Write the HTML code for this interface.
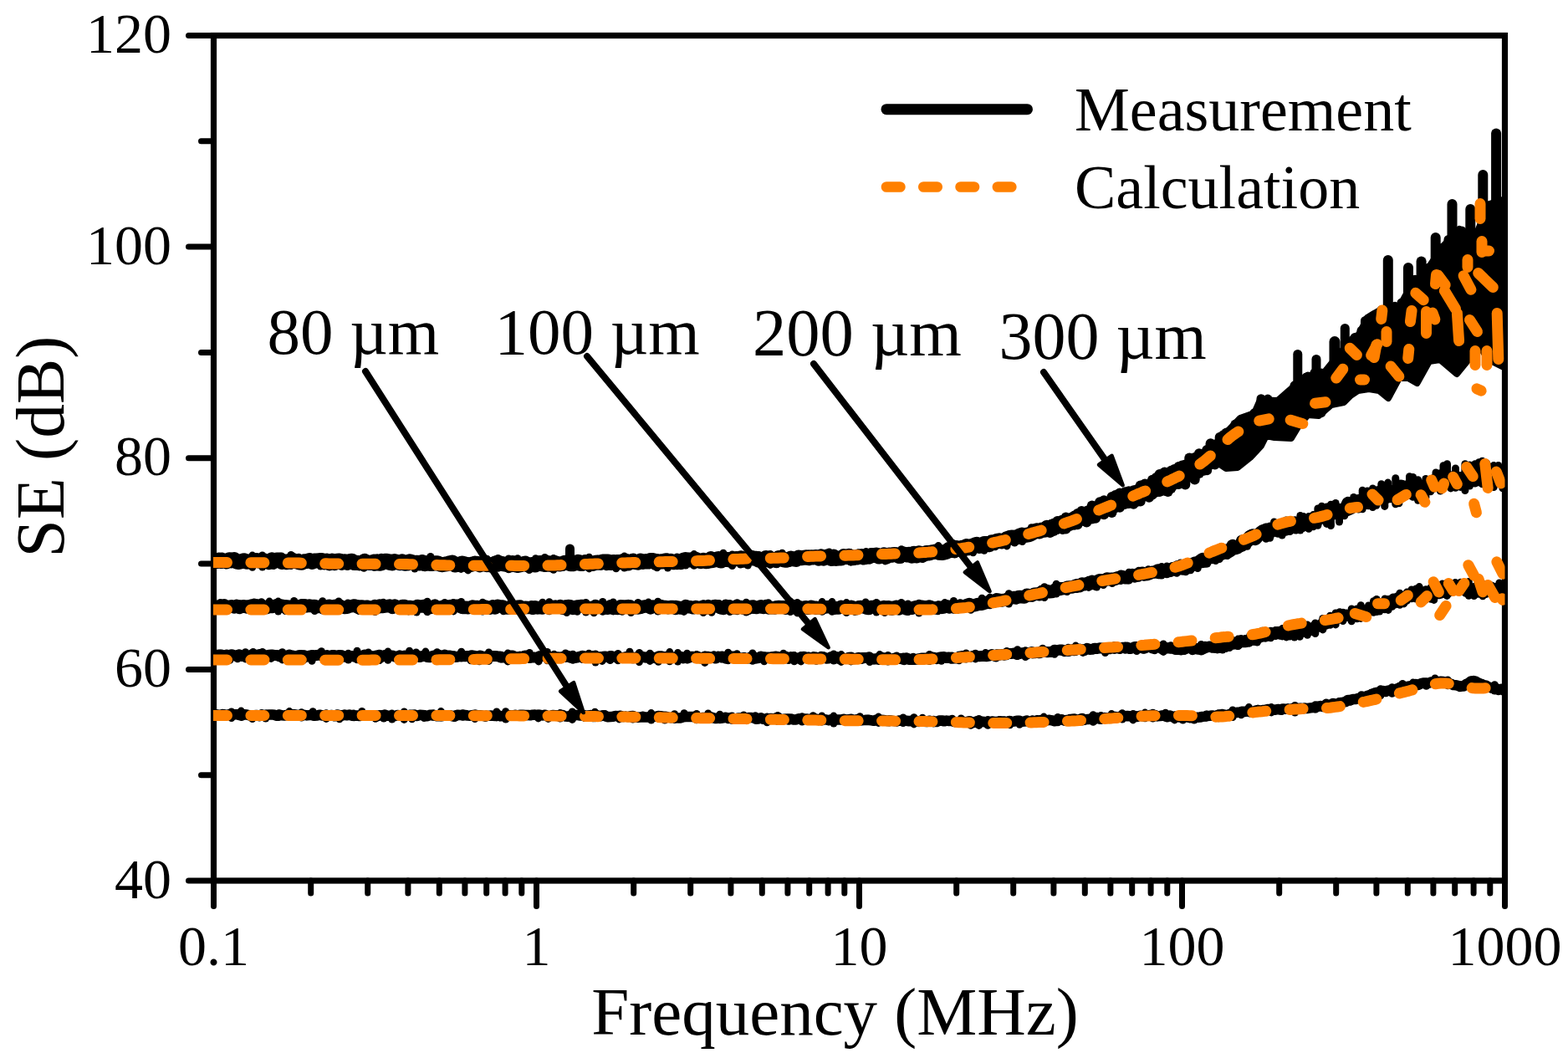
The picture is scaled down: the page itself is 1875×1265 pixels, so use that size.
<!DOCTYPE html><html><head><meta charset="utf-8"><style>html,body{margin:0;padding:0;background:#fff}svg{display:block}</style></head><body><svg width="1875" height="1265" viewBox="0 0 1875 1265">
<defs><clipPath id="pa"><rect x="255" y="20" width="1544.5" height="1033"/></clipPath></defs>
<rect width="1875" height="1265" fill="#fff"/>
<g stroke="#000" stroke-width="7" fill="none">
<rect x="255.5" y="42.5" width="1544.0" height="1010.5" stroke-width="7.2"/>
<line x1="255.5" y1="1053.0" x2="225.5" y2="1053.0" stroke-linecap="round"/>
<line x1="255.5" y1="926.7" x2="240.5" y2="926.7" stroke-linecap="round"/>
<line x1="255.5" y1="800.4" x2="225.5" y2="800.4" stroke-linecap="round"/>
<line x1="255.5" y1="674.1" x2="240.5" y2="674.1" stroke-linecap="round"/>
<line x1="255.5" y1="547.8" x2="225.5" y2="547.8" stroke-linecap="round"/>
<line x1="255.5" y1="421.4" x2="240.5" y2="421.4" stroke-linecap="round"/>
<line x1="255.5" y1="295.1" x2="225.5" y2="295.1" stroke-linecap="round"/>
<line x1="255.5" y1="168.8" x2="240.5" y2="168.8" stroke-linecap="round"/>
<line x1="255.5" y1="42.5" x2="225.5" y2="42.5" stroke-linecap="round"/>
<line x1="255.5" y1="1053.0" x2="255.5" y2="1083.5" stroke-linecap="round"/>
<line x1="371.7" y1="1053.0" x2="371.7" y2="1068" stroke-linecap="round"/>
<line x1="439.7" y1="1053.0" x2="439.7" y2="1068" stroke-linecap="round"/>
<line x1="487.9" y1="1053.0" x2="487.9" y2="1068" stroke-linecap="round"/>
<line x1="525.3" y1="1053.0" x2="525.3" y2="1068" stroke-linecap="round"/>
<line x1="555.9" y1="1053.0" x2="555.9" y2="1068" stroke-linecap="round"/>
<line x1="581.7" y1="1053.0" x2="581.7" y2="1068" stroke-linecap="round"/>
<line x1="604.1" y1="1053.0" x2="604.1" y2="1068" stroke-linecap="round"/>
<line x1="623.8" y1="1053.0" x2="623.8" y2="1068" stroke-linecap="round"/>
<line x1="641.5" y1="1053.0" x2="641.5" y2="1083.5" stroke-linecap="round"/>
<line x1="757.7" y1="1053.0" x2="757.7" y2="1068" stroke-linecap="round"/>
<line x1="825.7" y1="1053.0" x2="825.7" y2="1068" stroke-linecap="round"/>
<line x1="873.9" y1="1053.0" x2="873.9" y2="1068" stroke-linecap="round"/>
<line x1="911.3" y1="1053.0" x2="911.3" y2="1068" stroke-linecap="round"/>
<line x1="941.9" y1="1053.0" x2="941.9" y2="1068" stroke-linecap="round"/>
<line x1="967.7" y1="1053.0" x2="967.7" y2="1068" stroke-linecap="round"/>
<line x1="990.1" y1="1053.0" x2="990.1" y2="1068" stroke-linecap="round"/>
<line x1="1009.8" y1="1053.0" x2="1009.8" y2="1068" stroke-linecap="round"/>
<line x1="1027.5" y1="1053.0" x2="1027.5" y2="1083.5" stroke-linecap="round"/>
<line x1="1143.7" y1="1053.0" x2="1143.7" y2="1068" stroke-linecap="round"/>
<line x1="1211.7" y1="1053.0" x2="1211.7" y2="1068" stroke-linecap="round"/>
<line x1="1259.9" y1="1053.0" x2="1259.9" y2="1068" stroke-linecap="round"/>
<line x1="1297.3" y1="1053.0" x2="1297.3" y2="1068" stroke-linecap="round"/>
<line x1="1327.9" y1="1053.0" x2="1327.9" y2="1068" stroke-linecap="round"/>
<line x1="1353.7" y1="1053.0" x2="1353.7" y2="1068" stroke-linecap="round"/>
<line x1="1376.1" y1="1053.0" x2="1376.1" y2="1068" stroke-linecap="round"/>
<line x1="1395.8" y1="1053.0" x2="1395.8" y2="1068" stroke-linecap="round"/>
<line x1="1413.5" y1="1053.0" x2="1413.5" y2="1083.5" stroke-linecap="round"/>
<line x1="1529.7" y1="1053.0" x2="1529.7" y2="1068" stroke-linecap="round"/>
<line x1="1597.7" y1="1053.0" x2="1597.7" y2="1068" stroke-linecap="round"/>
<line x1="1645.9" y1="1053.0" x2="1645.9" y2="1068" stroke-linecap="round"/>
<line x1="1683.3" y1="1053.0" x2="1683.3" y2="1068" stroke-linecap="round"/>
<line x1="1713.9" y1="1053.0" x2="1713.9" y2="1068" stroke-linecap="round"/>
<line x1="1739.7" y1="1053.0" x2="1739.7" y2="1068" stroke-linecap="round"/>
<line x1="1762.1" y1="1053.0" x2="1762.1" y2="1068" stroke-linecap="round"/>
<line x1="1781.8" y1="1053.0" x2="1781.8" y2="1068" stroke-linecap="round"/>
<line x1="1799.5" y1="1053.0" x2="1799.5" y2="1083.5" stroke-linecap="round"/>
</g>
<g clip-path="url(#pa)" fill="none" stroke-linejoin="round" stroke-linecap="round">
<path d="M250.0,854.6 L253.0,854.3 L256.0,855.3 L259.0,854.2 L262.0,855.1 L265.0,854.8 L268.0,854.2 L271.0,855.1 L274.0,854.1 L277.0,854.9 L280.0,854.2 L283.0,854.2 L286.0,854.9 L289.0,855.7 L292.0,854.3 L295.0,854.5 L298.0,855.3 L301.0,856.0 L304.0,855.3 L307.0,854.9 L310.0,856.1 L313.0,854.2 L316.0,855.8 L319.0,854.7 L322.0,854.4 L325.0,854.4 L328.0,854.8 L331.0,855.8 L334.0,854.5 L337.0,855.3 L340.0,855.5 L343.0,854.9 L346.0,855.3 L349.0,854.3 L352.0,854.3 L355.0,854.6 L358.0,855.6 L361.0,855.1 L364.0,854.9 L367.0,855.4 L370.0,855.1 L373.0,854.8 L376.0,855.8 L379.0,855.6 L382.0,854.7 L385.0,855.4 L388.0,855.3 L391.0,856.0 L394.0,855.7 L397.0,854.9 L400.0,856.3 L403.0,854.5 L406.0,855.1 L409.0,855.8 L412.0,854.6 L415.0,855.3 L418.0,854.4 L421.0,855.7 L424.0,855.9 L427.0,855.5 L430.0,856.1 L433.0,855.0 L436.0,855.8 L439.0,855.6 L442.0,855.5 L445.0,855.3 L448.0,856.1 L451.0,856.3 L454.0,855.3 L457.0,855.7 L460.0,854.5 L463.0,855.8 L466.0,855.7 L469.0,856.4 L472.0,856.1 L475.0,855.0 L478.0,855.2 L481.0,855.8 L484.0,854.5 L487.0,855.4 L490.0,854.8 L493.0,854.7 L496.0,854.6 L499.0,856.0 L502.0,854.8 L505.0,855.0 L508.0,855.3 L511.0,856.3 L514.0,854.7 L517.0,855.4 L520.0,855.6 L523.0,856.3 L526.0,856.2 L529.0,856.3 L532.0,855.1 L535.0,855.4 L538.0,855.3 L541.0,856.3 L544.0,856.5 L547.0,854.8 L550.0,854.9 L553.0,855.0 L556.0,855.0 L559.0,855.5 L562.0,855.7 L565.0,855.1 L568.0,854.6 L571.0,855.4 L574.0,855.3 L577.0,855.7 L580.0,856.5 L583.0,855.9 L586.0,855.6 L589.0,855.8 L592.0,855.9 L595.0,854.7 L598.0,856.4 L601.0,856.1 L604.0,856.3 L607.0,856.2 L610.0,855.3 L613.0,855.4 L616.0,854.8 L619.0,855.8 L622.0,854.7 L625.0,854.7 L628.0,855.0 L631.0,854.9 L634.0,855.3 L637.0,854.7 L640.0,854.6 L643.0,854.9 L646.0,854.8 L649.0,855.4 L652.0,854.7 L655.0,856.4 L658.0,855.9 L661.0,855.0 L664.0,855.2 L667.0,855.4 L670.0,855.5 L673.0,855.0 L676.0,856.5 L679.0,856.8 L682.0,855.8 L685.0,855.8 L688.0,855.1 L691.0,855.1 L694.0,855.6 L697.0,855.5 L700.0,856.7 L703.0,855.4 L706.0,855.1 L709.0,857.0 L712.0,856.2 L715.0,855.5 L718.0,856.3 L721.0,855.3 L724.0,856.3 L727.0,857.3 L730.0,857.1 L733.0,856.8 L736.0,855.9 L739.0,856.2 L742.0,855.8 L745.0,857.1 L748.0,856.6 L751.0,857.1 L754.0,856.3 L757.0,856.1 L760.0,857.3 L763.0,857.7 L766.0,857.5 L769.0,857.4 L772.0,857.5 L775.0,857.4 L778.0,856.4 L781.0,857.0 L784.0,856.8 L787.0,856.1 L790.0,856.2 L793.0,856.7 L796.0,856.7 L799.0,857.6 L802.0,858.2 L805.0,857.2 L808.0,858.3 L811.0,858.4 L814.0,858.4 L817.0,857.3 L820.0,857.0 L823.0,857.1 L826.0,857.1 L829.0,857.1 L832.0,858.0 L835.0,858.6 L838.0,858.5 L841.0,857.9 L844.0,858.3 L847.0,858.6 L850.0,857.2 L853.0,858.4 L856.0,859.0 L859.0,858.8 L862.0,858.8 L865.0,858.3 L868.0,857.7 L871.0,859.0 L874.0,858.1 L877.0,859.1 L880.0,859.5 L883.0,858.4 L886.0,858.5 L889.0,859.6 L892.0,859.2 L895.0,858.1 L898.0,858.1 L901.0,858.2 L904.0,859.8 L907.0,859.6 L910.0,858.3 L913.0,859.8 L916.0,860.1 L919.0,859.5 L922.0,859.0 L925.0,859.4 L928.0,858.6 L931.0,858.4 L934.0,860.4 L937.0,859.8 L940.0,859.6 L943.0,860.5 L946.0,859.5 L949.0,860.4 L952.0,860.4 L955.0,859.2 L958.0,859.3 L961.0,859.5 L964.0,859.4 L967.0,860.2 L970.0,859.6 L973.0,859.9 L976.0,859.4 L979.0,861.0 L982.0,859.9 L985.0,860.2 L988.0,860.5 L991.0,861.2 L994.0,860.3 L997.0,861.3 L1000.0,860.5 L1003.0,860.6 L1006.0,860.6 L1009.0,859.7 L1012.0,860.6 L1015.0,860.1 L1018.0,859.8 L1021.0,861.4 L1024.0,860.2 L1027.0,860.9 L1030.0,861.4 L1033.0,861.1 L1036.0,860.7 L1039.0,861.1 L1042.0,861.3 L1045.0,861.8 L1048.0,860.5 L1051.0,861.4 L1054.0,860.8 L1057.0,860.9 L1060.0,862.0 L1063.0,861.5 L1066.0,861.6 L1069.0,862.1 L1072.0,862.4 L1075.0,861.5 L1078.0,861.9 L1081.0,861.8 L1084.0,861.8 L1087.0,862.2 L1090.0,861.8 L1093.0,862.0 L1096.0,861.9 L1099.0,862.9 L1102.0,862.4 L1105.0,862.8 L1108.0,863.0 L1111.0,861.7 L1114.0,862.3 L1117.0,863.1 L1120.0,863.0 L1123.0,861.6 L1126.0,861.6 L1129.0,862.3 L1132.0,861.6 L1135.0,862.0 L1138.0,861.7 L1141.0,863.0 L1144.0,863.3 L1147.0,863.5 L1150.0,862.1 L1153.0,863.3 L1156.0,863.2 L1159.0,862.2 L1162.0,863.7 L1165.0,863.9 L1168.0,862.4 L1171.0,863.9 L1174.0,862.8 L1177.0,863.0 L1180.0,864.0 L1183.0,863.7 L1186.0,862.4 L1189.0,862.9 L1192.0,863.1 L1195.0,862.7 L1198.0,862.4 L1201.0,862.6 L1204.0,863.3 L1207.0,861.9 L1210.0,862.9 L1213.0,862.6 L1216.0,861.7 L1219.0,862.3 L1222.0,862.8 L1225.0,862.5 L1228.0,861.5 L1231.0,863.3 L1234.0,862.8 L1237.0,863.1 L1240.0,861.3 L1243.0,861.5 L1246.0,861.0 L1249.0,862.3 L1252.0,861.2 L1255.0,860.8 L1258.0,861.3 L1261.0,862.2 L1264.0,861.9 L1267.0,860.6 L1270.0,860.3 L1273.0,861.7 L1276.0,860.9 L1279.0,861.1 L1282.0,859.7 L1285.0,859.5 L1288.0,860.7 L1291.0,860.0 L1294.0,859.1 L1297.0,860.7 L1300.0,860.0 L1303.0,860.1 L1306.0,858.5 L1309.0,859.9 L1312.0,858.1 L1315.0,859.5 L1318.0,858.5 L1321.0,858.1 L1324.0,858.4 L1327.0,858.9 L1330.0,857.4 L1333.0,857.0 L1336.0,857.6 L1339.0,856.9 L1342.0,856.4 L1345.0,856.4 L1348.0,856.0 L1351.0,856.2 L1354.0,856.2 L1357.0,856.1 L1360.0,856.9 L1363.0,855.8 L1366.0,856.2 L1369.0,855.4 L1372.0,855.7 L1375.0,855.0 L1378.0,855.4 L1381.0,855.0 L1384.0,856.4 L1387.0,856.1 L1390.0,855.5 L1393.0,856.2 L1396.0,857.2 L1399.0,855.6 L1402.0,857.2 L1405.0,856.5 L1408.0,856.8 L1411.0,857.6 L1414.0,856.8 L1417.0,857.1 L1420.0,857.5 L1423.0,858.2 L1426.0,856.9 L1429.0,857.9 L1432.0,857.7 L1435.0,857.5 L1438.0,856.9 L1441.0,856.6 L1444.0,855.9 L1447.0,855.8 L1450.0,855.4 L1453.0,856.4 L1456.0,855.1 L1459.0,854.6 L1462.0,854.0 L1465.0,855.1 L1468.0,854.7 L1471.0,853.9 L1474.0,852.7 L1477.0,852.2 L1480.0,851.8 L1483.0,851.8 L1486.0,850.7 L1489.0,850.9 L1492.0,850.2 L1495.0,851.3 L1498.0,851.0 L1501.0,849.9 L1504.0,849.1 L1507.0,850.4 L1510.0,848.9 L1513.0,848.8 L1516.0,848.0 L1519.0,848.6 L1522.0,848.7 L1525.0,848.7 L1528.0,848.0 L1531.0,848.5 L1534.0,847.4 L1537.0,847.8 L1540.0,847.3 L1543.0,847.8 L1546.0,846.9 L1549.0,846.7 L1552.0,847.1 L1555.0,846.7 L1558.0,847.2 L1561.0,846.8 L1564.0,846.9 L1567.0,846.4 L1570.0,846.1 L1573.0,846.0 L1576.0,844.6 L1579.0,844.1 L1582.0,844.9 L1585.0,842.7 L1588.0,843.4 L1591.0,842.6 L1594.0,840.9 L1597.0,841.9 L1600.0,841.4 L1603.0,840.2 L1606.0,839.7 L1609.0,839.1 L1612.0,836.9 L1615.0,836.9 L1618.0,836.1 L1621.0,835.9 L1624.0,835.0 L1627.0,834.2 L1630.0,832.9 L1633.0,832.8 L1636.0,831.6 L1639.0,830.9 L1642.0,829.3 L1645.0,828.1 L1648.0,827.6 L1651.0,827.3 L1654.0,826.1 L1657.0,826.9 L1660.0,825.6 L1663.0,825.1 L1666.0,824.4 L1669.0,823.9 L1672.0,822.9 L1675.0,821.4 L1678.0,822.4 L1681.0,821.8 L1684.0,820.7 L1687.0,820.2 L1690.0,819.9 L1693.0,818.1 L1696.0,818.9 L1699.0,817.4 L1702.0,816.6 L1705.0,816.5 L1708.0,817.0 L1711.0,815.5 L1714.0,816.2 L1717.0,816.4 L1720.0,815.2 L1723.0,814.8 L1726.0,815.0 L1729.0,815.7 L1732.0,816.8 L1735.0,817.7 L1738.0,819.1 L1741.0,819.2 L1744.0,820.1 L1747.0,820.4 L1750.0,820.5 L1753.0,818.1 L1756.0,816.9 L1759.0,814.5 L1762.0,814.1 L1765.0,814.9 L1768.0,816.6 L1771.0,817.8 L1774.0,819.1 L1777.0,819.7 L1780.0,821.4 L1783.0,822.4 L1786.0,823.2 L1789.0,823.0 L1792.0,824.9 L1795.0,823.7 L1798.0,825.5 L1801.0,825.6 L1804.0,823.9" stroke="#000" stroke-width="12.5"/>
<path d="M250.0,783.4 L253.0,784.3 L256.0,784.6 L259.0,783.4 L262.0,783.0 L265.0,782.9 L268.0,784.6 L271.0,782.9 L274.0,783.8 L277.0,782.7 L280.0,783.7 L283.0,784.7 L286.0,782.8 L289.0,784.4 L292.0,783.7 L295.0,784.6 L298.0,784.2 L301.0,783.1 L304.0,784.7 L307.0,783.7 L310.0,782.6 L313.0,782.6 L316.0,783.7 L319.0,783.7 L322.0,783.3 L325.0,782.9 L328.0,783.4 L331.0,783.4 L334.0,784.6 L337.0,782.6 L340.0,784.5 L343.0,784.7 L346.0,783.0 L349.0,784.9 L352.0,784.4 L355.0,784.9 L358.0,783.4 L361.0,783.6 L364.0,783.7 L367.0,785.2 L370.0,784.2 L373.0,783.6 L376.0,783.8 L379.0,783.5 L382.0,782.9 L385.0,783.1 L388.0,784.8 L391.0,783.5 L394.0,785.1 L397.0,783.5 L400.0,783.5 L403.0,784.1 L406.0,783.4 L409.0,783.8 L412.0,785.2 L415.0,785.1 L418.0,784.9 L421.0,784.5 L424.0,785.2 L427.0,785.2 L430.0,784.3 L433.0,784.7 L436.0,783.1 L439.0,784.8 L442.0,784.1 L445.0,784.9 L448.0,784.6 L451.0,783.8 L454.0,783.2 L457.0,785.3 L460.0,783.4 L463.0,784.3 L466.0,784.0 L469.0,783.9 L472.0,785.0 L475.0,785.5 L478.0,783.8 L481.0,784.8 L484.0,784.0 L487.0,784.6 L490.0,784.2 L493.0,783.7 L496.0,783.7 L499.0,783.8 L502.0,785.5 L505.0,784.5 L508.0,783.9 L511.0,785.5 L514.0,785.8 L517.0,784.5 L520.0,783.7 L523.0,783.9 L526.0,783.6 L529.0,784.3 L532.0,783.7 L535.0,784.0 L538.0,784.1 L541.0,784.9 L544.0,785.6 L547.0,785.3 L550.0,784.5 L553.0,784.6 L556.0,784.8 L559.0,784.5 L562.0,784.4 L565.0,783.8 L568.0,784.3 L571.0,786.0 L574.0,784.0 L577.0,784.9 L580.0,785.2 L583.0,785.8 L586.0,784.3 L589.0,784.4 L592.0,784.4 L595.0,784.7 L598.0,784.9 L601.0,786.1 L604.0,785.9 L607.0,785.9 L610.0,783.9 L613.0,784.0 L616.0,785.6 L619.0,786.1 L622.0,785.1 L625.0,785.4 L628.0,784.0 L631.0,784.9 L634.0,786.2 L637.0,786.0 L640.0,786.1 L643.0,786.4 L646.0,784.6 L649.0,784.3 L652.0,784.5 L655.0,785.4 L658.0,785.7 L661.0,786.4 L664.0,785.9 L667.0,785.7 L670.0,786.0 L673.0,785.3 L676.0,785.5 L679.0,784.3 L682.0,786.1 L685.0,784.8 L688.0,786.5 L691.0,785.8 L694.0,785.0 L697.0,784.6 L700.0,784.9 L703.0,785.8 L706.0,786.0 L709.0,784.6 L712.0,784.5 L715.0,785.6 L718.0,785.8 L721.0,785.3 L724.0,784.9 L727.0,785.8 L730.0,784.4 L733.0,785.1 L736.0,785.5 L739.0,786.7 L742.0,786.0 L745.0,786.6 L748.0,785.6 L751.0,785.0 L754.0,785.1 L757.0,786.8 L760.0,786.2 L763.0,785.3 L766.0,784.6 L769.0,785.7 L772.0,786.2 L775.0,785.6 L778.0,785.2 L781.0,786.2 L784.0,786.8 L787.0,785.1 L790.0,784.7 L793.0,785.4 L796.0,785.6 L799.0,786.3 L802.0,785.1 L805.0,786.6 L808.0,786.4 L811.0,785.9 L814.0,785.2 L817.0,787.0 L820.0,785.4 L823.0,786.7 L826.0,785.3 L829.0,785.2 L832.0,786.5 L835.0,785.4 L838.0,787.0 L841.0,785.9 L844.0,785.2 L847.0,785.3 L850.0,785.8 L853.0,786.4 L856.0,787.1 L859.0,785.1 L862.0,785.7 L865.0,785.3 L868.0,787.2 L871.0,785.2 L874.0,785.0 L877.0,785.0 L880.0,785.8 L883.0,787.0 L886.0,787.0 L889.0,786.6 L892.0,787.3 L895.0,787.1 L898.0,785.7 L901.0,785.4 L904.0,787.2 L907.0,786.7 L910.0,785.0 L913.0,786.5 L916.0,785.9 L919.0,785.9 L922.0,785.8 L925.0,785.4 L928.0,785.0 L931.0,785.7 L934.0,785.9 L937.0,787.3 L940.0,785.3 L943.0,787.4 L946.0,785.6 L949.0,785.9 L952.0,787.1 L955.0,787.1 L958.0,786.1 L961.0,785.2 L964.0,786.3 L967.0,786.0 L970.0,787.4 L973.0,785.6 L976.0,786.1 L979.0,787.4 L982.0,785.3 L985.0,786.2 L988.0,787.2 L991.0,787.1 L994.0,785.4 L997.0,785.4 L1000.0,785.5 L1003.0,787.5 L1006.0,786.0 L1009.0,787.2 L1012.0,787.6 L1015.0,786.3 L1018.0,786.1 L1021.0,787.8 L1024.0,787.1 L1027.0,786.3 L1030.0,787.4 L1033.0,786.5 L1036.0,786.5 L1039.0,785.9 L1042.0,787.7 L1045.0,788.2 L1048.0,787.6 L1051.0,788.4 L1054.0,786.2 L1057.0,786.8 L1060.0,787.4 L1063.0,788.6 L1066.0,788.6 L1069.0,787.3 L1072.0,787.0 L1075.0,787.5 L1078.0,787.6 L1081.0,788.7 L1084.0,786.9 L1087.0,788.4 L1090.0,788.2 L1093.0,788.4 L1096.0,788.2 L1099.0,787.8 L1102.0,787.0 L1105.0,787.0 L1108.0,787.0 L1111.0,787.9 L1114.0,786.1 L1117.0,786.3 L1120.0,787.6 L1123.0,786.2 L1126.0,785.7 L1129.0,785.5 L1132.0,786.6 L1135.0,785.9 L1138.0,787.3 L1141.0,787.0 L1144.0,787.1 L1147.0,785.2 L1150.0,784.6 L1153.0,784.5 L1156.0,785.3 L1159.0,785.6 L1162.0,784.8 L1165.0,784.1 L1168.0,784.4 L1171.0,784.7 L1174.0,784.6 L1177.0,784.6 L1180.0,784.7 L1183.0,784.1 L1186.0,782.6 L1189.0,784.2 L1192.0,782.7 L1195.0,783.2 L1198.0,782.5 L1201.0,783.2 L1204.0,781.7 L1207.0,781.6 L1210.0,781.4 L1213.0,781.0 L1216.0,782.5 L1219.0,781.6 L1222.0,780.8 L1225.0,780.7 L1228.0,781.9 L1231.0,780.5 L1234.0,779.6 L1237.0,780.8 L1240.0,780.2 L1243.0,780.8 L1246.0,778.4 L1249.0,779.1 L1252.0,779.7 L1255.0,779.5 L1258.0,779.5 L1261.0,777.2 L1264.0,777.6 L1267.0,777.0 L1270.0,777.0 L1273.0,778.7 L1276.0,777.6 L1279.0,778.2 L1282.0,776.7 L1285.0,777.8 L1288.0,776.6 L1291.0,776.1 L1294.0,777.2 L1297.0,777.4 L1300.0,775.3 L1303.0,776.4 L1306.0,776.3 L1309.0,775.2 L1312.0,775.5 L1315.0,774.8 L1318.0,774.9 L1321.0,774.9 L1324.0,775.7 L1327.0,775.8 L1330.0,774.5 L1333.0,773.9 L1336.0,774.7 L1339.0,775.5 L1342.0,774.2 L1345.0,774.4 L1348.0,774.1 L1351.0,775.6 L1354.0,774.9 L1357.0,773.5 L1360.0,773.6 L1363.0,774.3 L1366.0,774.7 L1369.0,774.9 L1372.0,773.3 L1375.0,773.5 L1378.0,775.0 L1381.0,774.2 L1384.0,773.9 L1387.0,774.0 L1390.0,776.0 L1393.0,774.2 L1396.0,775.0 L1399.0,774.5 L1402.0,774.7 L1405.0,776.2 L1408.0,776.6 L1411.0,774.8 L1414.0,774.3 L1417.0,776.0 L1420.0,774.4 L1423.0,773.8 L1426.0,776.6 L1429.0,775.1 L1432.0,776.3 L1435.0,774.9 L1438.0,776.3 L1441.0,774.8 L1444.0,773.6 L1447.0,772.9 L1450.0,774.3 L1453.0,774.3 L1456.0,774.8 L1459.0,771.6 L1462.0,772.9 L1465.0,771.5 L1468.0,771.4 L1471.0,769.6 L1474.0,769.5 L1477.0,769.7 L1480.0,770.5 L1483.0,766.9 L1486.0,767.5 L1489.0,767.7 L1492.0,767.4 L1495.0,763.7 L1498.0,762.5 L1501.0,764.4 L1504.0,763.6 L1507.0,760.9 L1510.0,758.5 L1513.0,760.9 L1516.0,758.2 L1519.0,759.5 L1522.0,758.0 L1525.0,758.4 L1528.0,755.7 L1531.0,758.0 L1534.0,755.7 L1537.0,756.4 L1540.0,758.0 L1543.0,757.9 L1546.0,755.3 L1549.0,755.2 L1552.0,755.6 L1555.0,755.7 L1558.0,754.5 L1561.0,752.7 L1564.0,752.3 L1567.0,753.3 L1570.0,752.9 L1573.0,748.2 L1576.0,749.1 L1579.0,748.7 L1582.0,744.4 L1585.0,746.4 L1588.0,742.2 L1591.0,743.0 L1594.0,741.6 L1597.0,740.9 L1600.0,738.5 L1603.0,738.1 L1606.0,737.8 L1609.0,736.3 L1612.0,736.4 L1615.0,734.7 L1618.0,733.8 L1621.0,731.2 L1624.0,732.9 L1627.0,731.5 L1630.0,729.6 L1633.0,731.0 L1636.0,730.2 L1639.0,727.8 L1642.0,725.5 L1645.0,725.7 L1648.0,723.0 L1651.0,722.0 L1654.0,722.2 L1657.0,719.6 L1660.0,720.1 L1663.0,719.3 L1666.0,716.2 L1669.0,718.0 L1672.0,714.5 L1675.0,716.7 L1678.0,716.0 L1681.0,713.9 L1684.0,711.0 L1687.0,712.3 L1690.0,711.0 L1693.0,713.0 L1696.0,708.5 L1699.0,711.4 L1702.0,711.8 L1705.0,710.5 L1708.0,710.8 L1711.0,707.5 L1714.0,710.9 L1717.0,708.1 L1720.0,709.8 L1723.0,709.1 L1726.0,704.9 L1729.0,707.4 L1732.0,707.6 L1735.0,702.8 L1738.0,703.7 L1741.0,705.4 L1744.0,702.0 L1747.0,705.5 L1750.0,702.2 L1753.0,705.0 L1756.0,701.7 L1759.0,703.8 L1762.0,706.2 L1765.0,702.7 L1768.0,703.2 L1771.0,704.6 L1774.0,703.6 L1777.0,702.0 L1780.0,702.5 L1783.0,702.1 L1786.0,705.9 L1789.0,704.1 L1792.0,704.9 L1795.0,700.6 L1798.0,703.4 L1801.0,699.4 L1804.0,701.3" stroke="#000" stroke-width="13"/>
<path d="M250.0,725.4 L253.0,724.6 L256.0,726.1 L259.0,725.2 L262.0,725.3 L265.0,726.2 L268.0,723.8 L271.0,726.5 L274.0,725.4 L277.0,724.7 L280.0,726.0 L283.0,724.4 L286.0,726.5 L289.0,725.3 L292.0,724.7 L295.0,725.9 L298.0,724.9 L301.0,724.1 L304.0,725.8 L307.0,723.8 L310.0,726.1 L313.0,724.4 L316.0,725.5 L319.0,726.6 L322.0,725.4 L325.0,725.6 L328.0,724.6 L331.0,723.7 L334.0,723.8 L337.0,724.1 L340.0,725.5 L343.0,725.0 L346.0,725.2 L349.0,726.4 L352.0,724.1 L355.0,724.4 L358.0,725.7 L361.0,723.8 L364.0,723.7 L367.0,724.8 L370.0,724.1 L373.0,724.8 L376.0,724.4 L379.0,725.5 L382.0,725.5 L385.0,724.4 L388.0,725.6 L391.0,725.2 L394.0,724.2 L397.0,726.6 L400.0,724.5 L403.0,724.2 L406.0,724.1 L409.0,725.7 L412.0,726.4 L415.0,726.2 L418.0,725.0 L421.0,724.6 L424.0,723.9 L427.0,725.8 L430.0,725.5 L433.0,724.9 L436.0,725.8 L439.0,725.2 L442.0,726.7 L445.0,726.1 L448.0,724.6 L451.0,726.6 L454.0,724.0 L457.0,725.5 L460.0,725.1 L463.0,724.6 L466.0,724.1 L469.0,726.3 L472.0,724.0 L475.0,725.6 L478.0,726.8 L481.0,724.4 L484.0,724.6 L487.0,725.8 L490.0,725.5 L493.0,725.9 L496.0,726.4 L499.0,724.5 L502.0,724.9 L505.0,724.9 L508.0,724.2 L511.0,726.7 L514.0,726.4 L517.0,726.2 L520.0,724.1 L523.0,726.6 L526.0,726.3 L529.0,725.5 L532.0,726.3 L535.0,725.4 L538.0,724.8 L541.0,724.4 L544.0,724.8 L547.0,724.2 L550.0,725.1 L553.0,726.4 L556.0,726.2 L559.0,726.7 L562.0,726.3 L565.0,725.0 L568.0,725.8 L571.0,725.5 L574.0,726.6 L577.0,725.8 L580.0,725.0 L583.0,726.2 L586.0,727.1 L589.0,724.9 L592.0,726.9 L595.0,724.3 L598.0,725.1 L601.0,725.0 L604.0,726.5 L607.0,727.1 L610.0,726.5 L613.0,725.3 L616.0,727.0 L619.0,725.3 L622.0,725.1 L625.0,727.1 L628.0,726.2 L631.0,726.4 L634.0,726.4 L637.0,727.3 L640.0,725.8 L643.0,726.9 L646.0,726.5 L649.0,727.0 L652.0,725.7 L655.0,726.6 L658.0,726.1 L661.0,725.4 L664.0,725.1 L667.0,726.3 L670.0,724.7 L673.0,727.2 L676.0,724.9 L679.0,724.6 L682.0,724.8 L685.0,727.3 L688.0,725.5 L691.0,724.9 L694.0,724.6 L697.0,724.6 L700.0,726.6 L703.0,726.4 L706.0,726.6 L709.0,726.7 L712.0,724.7 L715.0,726.3 L718.0,725.6 L721.0,727.0 L724.0,727.0 L727.0,727.2 L730.0,724.7 L733.0,727.1 L736.0,727.3 L739.0,727.4 L742.0,724.8 L745.0,725.1 L748.0,724.9 L751.0,724.6 L754.0,727.1 L757.0,727.0 L760.0,726.4 L763.0,727.0 L766.0,726.4 L769.0,725.4 L772.0,724.8 L775.0,724.8 L778.0,726.8 L781.0,725.1 L784.0,725.5 L787.0,725.8 L790.0,724.6 L793.0,725.3 L796.0,725.4 L799.0,726.7 L802.0,725.6 L805.0,725.5 L808.0,727.4 L811.0,726.0 L814.0,727.1 L817.0,726.4 L820.0,724.6 L823.0,725.7 L826.0,725.8 L829.0,726.8 L832.0,725.5 L835.0,726.6 L838.0,726.1 L841.0,725.1 L844.0,727.1 L847.0,724.8 L850.0,726.9 L853.0,725.0 L856.0,724.5 L859.0,725.1 L862.0,726.8 L865.0,727.4 L868.0,724.5 L871.0,725.9 L874.0,725.9 L877.0,726.9 L880.0,725.0 L883.0,726.0 L886.0,725.5 L889.0,727.0 L892.0,725.3 L895.0,727.3 L898.0,725.3 L901.0,725.1 L904.0,726.6 L907.0,726.0 L910.0,724.8 L913.0,726.4 L916.0,724.7 L919.0,726.8 L922.0,726.6 L925.0,726.8 L928.0,726.4 L931.0,725.6 L934.0,725.7 L937.0,725.7 L940.0,727.2 L943.0,724.8 L946.0,727.2 L949.0,724.6 L952.0,725.1 L955.0,725.3 L958.0,727.3 L961.0,726.1 L964.0,725.7 L967.0,727.2 L970.0,725.3 L973.0,726.0 L976.0,726.2 L979.0,726.9 L982.0,726.9 L985.0,726.6 L988.0,725.8 L991.0,725.7 L994.0,725.2 L997.0,727.3 L1000.0,726.8 L1003.0,727.0 L1006.0,725.3 L1009.0,726.2 L1012.0,727.2 L1015.0,726.6 L1018.0,725.3 L1021.0,726.3 L1024.0,727.6 L1027.0,725.7 L1030.0,725.6 L1033.0,725.9 L1036.0,727.1 L1039.0,727.6 L1042.0,725.5 L1045.0,725.5 L1048.0,725.8 L1051.0,726.0 L1054.0,726.6 L1057.0,725.6 L1060.0,726.1 L1063.0,725.7 L1066.0,728.0 L1069.0,727.3 L1072.0,725.4 L1075.0,728.0 L1078.0,725.4 L1081.0,726.2 L1084.0,728.0 L1087.0,727.5 L1090.0,727.3 L1093.0,726.3 L1096.0,725.6 L1099.0,726.9 L1102.0,725.3 L1105.0,725.6 L1108.0,726.1 L1111.0,725.0 L1114.0,726.0 L1117.0,727.1 L1120.0,726.8 L1123.0,726.1 L1126.0,726.4 L1129.0,725.8 L1132.0,724.7 L1135.0,725.9 L1138.0,725.1 L1141.0,726.0 L1144.0,726.2 L1147.0,724.6 L1150.0,724.7 L1153.0,724.9 L1156.0,723.6 L1159.0,722.6 L1162.0,723.7 L1165.0,723.7 L1168.0,722.9 L1171.0,722.2 L1174.0,722.2 L1177.0,721.1 L1180.0,720.5 L1183.0,719.4 L1186.0,718.5 L1189.0,718.9 L1192.0,716.8 L1195.0,717.3 L1198.0,717.9 L1201.0,717.2 L1204.0,716.5 L1207.0,714.8 L1210.0,714.9 L1213.0,714.5 L1216.0,714.5 L1219.0,713.4 L1222.0,713.7 L1225.0,714.0 L1228.0,711.2 L1231.0,712.1 L1234.0,711.9 L1237.0,710.2 L1240.0,710.0 L1243.0,710.8 L1246.0,707.4 L1249.0,708.3 L1252.0,706.5 L1255.0,707.7 L1258.0,707.6 L1261.0,705.6 L1264.0,703.7 L1267.0,704.5 L1270.0,703.7 L1273.0,703.6 L1276.0,702.3 L1279.0,702.1 L1282.0,702.1 L1285.0,700.6 L1288.0,699.7 L1291.0,700.7 L1294.0,698.0 L1297.0,698.8 L1300.0,697.4 L1303.0,698.0 L1306.0,695.5 L1309.0,697.6 L1312.0,695.2 L1315.0,693.7 L1318.0,693.9 L1321.0,693.7 L1324.0,692.0 L1327.0,692.7 L1330.0,692.2 L1333.0,692.5 L1336.0,691.0 L1339.0,690.2 L1342.0,689.6 L1345.0,690.7 L1348.0,690.7 L1351.0,689.0 L1354.0,687.6 L1357.0,688.9 L1360.0,687.1 L1363.0,686.0 L1366.0,685.2 L1369.0,686.9 L1372.0,686.5 L1375.0,685.4 L1378.0,684.2 L1381.0,684.1 L1384.0,682.3 L1387.0,684.6 L1390.0,681.8 L1393.0,682.5 L1396.0,682.8 L1399.0,682.4 L1402.0,680.5 L1405.0,679.3 L1408.0,679.8 L1411.0,677.4 L1414.0,679.9 L1417.0,677.2 L1420.0,678.7 L1423.0,675.2 L1426.0,674.8 L1429.0,673.3 L1432.0,673.0 L1435.0,670.8 L1438.0,668.7 L1441.0,671.0 L1444.0,667.6 L1447.0,666.1 L1450.0,665.0 L1453.0,664.6 L1456.0,663.0 L1459.0,662.7 L1462.0,661.5 L1465.0,658.5 L1468.0,660.3 L1471.0,658.6 L1474.0,652.6 L1477.0,655.6 L1480.0,654.6 L1483.0,652.4 L1486.0,647.0 L1489.0,649.6 L1492.0,646.9 L1495.0,641.5 L1498.0,640.0 L1501.0,644.4 L1504.0,641.2 L1507.0,637.2 L1510.0,634.9 L1513.0,634.0 L1516.0,633.5 L1519.0,636.2 L1522.0,632.5 L1525.0,630.4 L1528.0,634.9 L1531.0,633.5 L1534.0,628.5 L1537.0,633.1 L1540.0,630.5 L1543.0,631.1 L1546.0,629.7 L1549.0,630.7 L1552.0,629.2 L1555.0,628.8 L1558.0,623.1 L1561.0,626.1 L1564.0,624.0 L1567.0,624.8 L1570.0,621.6 L1573.0,624.2 L1576.0,620.7 L1579.0,617.5 L1582.0,616.2 L1585.0,614.4 L1588.0,616.3 L1591.0,611.6 L1594.0,613.8 L1597.0,609.8 L1600.0,611.4 L1603.0,610.0 L1606.0,609.0 L1609.0,610.5 L1612.0,601.6 L1615.0,607.6 L1618.0,603.1 L1621.0,602.8 L1624.0,602.6 L1627.0,603.2 L1630.0,597.9 L1633.0,597.3 L1636.0,601.4 L1639.0,592.1 L1642.0,596.4 L1645.0,595.5 L1648.0,588.8 L1651.0,593.5 L1654.0,593.2 L1657.0,594.8 L1660.0,588.0 L1663.0,593.6 L1666.0,588.1 L1669.0,587.1 L1672.0,590.6 L1675.0,581.2 L1678.0,587.9 L1681.0,586.7 L1684.0,583.7 L1687.0,589.2 L1690.0,584.0 L1693.0,585.0 L1696.0,585.4 L1699.0,587.6 L1702.0,580.9 L1705.0,582.2 L1708.0,580.5 L1711.0,580.1 L1714.0,581.1 L1717.0,573.3 L1720.0,577.6 L1723.0,571.5 L1726.0,571.9 L1729.0,569.0 L1732.0,572.0 L1735.0,577.9 L1738.0,574.9 L1741.0,577.1 L1744.0,572.0 L1747.0,571.8 L1750.0,571.2 L1753.0,573.9 L1756.0,573.6 L1759.0,574.4 L1762.0,564.3 L1765.0,571.7 L1768.0,572.9 L1771.0,568.2 L1774.0,561.7 L1777.0,564.5 L1780.0,560.7 L1783.0,563.0 L1786.0,572.5 L1789.0,568.8 L1792.0,569.9 L1795.0,572.1 L1798.0,574.2 L1801.0,570.8 L1804.0,571.4" stroke="#000" stroke-width="15.5"/>
<path d="M250.0,670.9 L253.0,671.1 L256.0,670.8 L259.0,671.1 L262.0,669.6 L265.0,671.1 L268.0,670.4 L271.0,671.4 L274.0,669.3 L277.0,669.6 L280.0,669.1 L283.0,671.5 L286.0,672.0 L289.0,671.1 L292.0,670.2 L295.0,671.7 L298.0,671.6 L301.0,670.9 L304.0,669.9 L307.0,670.1 L310.0,670.5 L313.0,670.2 L316.0,670.5 L319.0,671.2 L322.0,672.2 L325.0,669.4 L328.0,671.0 L331.0,669.4 L334.0,669.6 L337.0,671.9 L340.0,671.2 L343.0,672.3 L346.0,670.8 L349.0,669.4 L352.0,670.7 L355.0,671.4 L358.0,672.5 L361.0,672.7 L364.0,671.2 L367.0,671.0 L370.0,670.1 L373.0,671.9 L376.0,670.6 L379.0,670.5 L382.0,670.1 L385.0,670.1 L388.0,672.4 L391.0,670.6 L394.0,673.4 L397.0,670.6 L400.0,673.2 L403.0,670.8 L406.0,670.5 L409.0,672.8 L412.0,671.3 L415.0,672.9 L418.0,671.2 L421.0,670.7 L424.0,673.1 L427.0,672.9 L430.0,673.4 L433.0,673.0 L436.0,670.9 L439.0,672.7 L442.0,672.9 L445.0,672.2 L448.0,673.7 L451.0,671.5 L454.0,673.8 L457.0,673.0 L460.0,670.8 L463.0,670.8 L466.0,672.9 L469.0,673.4 L472.0,671.1 L475.0,671.9 L478.0,673.2 L481.0,671.5 L484.0,673.7 L487.0,672.6 L490.0,671.3 L493.0,672.3 L496.0,673.1 L499.0,672.7 L502.0,673.6 L505.0,672.0 L508.0,674.2 L511.0,672.9 L514.0,673.9 L517.0,673.9 L520.0,673.3 L523.0,673.3 L526.0,674.6 L529.0,675.2 L532.0,674.7 L535.0,674.1 L538.0,673.2 L541.0,672.5 L544.0,675.5 L547.0,674.7 L550.0,675.1 L553.0,673.5 L556.0,674.4 L559.0,675.6 L562.0,675.2 L565.0,674.5 L568.0,673.6 L571.0,674.0 L574.0,675.4 L577.0,673.8 L580.0,674.8 L583.0,674.6 L586.0,675.5 L589.0,675.2 L592.0,673.6 L595.0,672.7 L598.0,673.5 L601.0,674.1 L604.0,674.6 L607.0,675.3 L610.0,675.6 L613.0,672.9 L616.0,675.4 L619.0,675.3 L622.0,675.5 L625.0,674.6 L628.0,673.6 L631.0,675.5 L634.0,675.3 L637.0,674.9 L640.0,675.6 L643.0,673.8 L646.0,672.9 L649.0,674.4 L652.0,675.1 L655.0,673.2 L658.0,674.9 L661.0,675.4 L664.0,673.1 L667.0,674.2 L670.0,674.4 L673.0,673.6 L676.0,672.7 L679.0,672.8 L682.0,674.3 L685.0,674.3 L688.0,673.2 L691.0,671.9 L694.0,674.1 L697.0,673.9 L700.0,672.1 L703.0,673.2 L706.0,674.1 L709.0,674.0 L712.0,672.8 L715.0,672.6 L718.0,672.9 L721.0,671.6 L724.0,671.5 L727.0,671.4 L730.0,673.0 L733.0,671.9 L736.0,672.5 L739.0,671.9 L742.0,672.2 L745.0,671.0 L748.0,670.6 L751.0,673.6 L754.0,671.5 L757.0,670.6 L760.0,672.2 L763.0,672.7 L766.0,670.6 L769.0,671.9 L772.0,671.1 L775.0,671.6 L778.0,669.9 L781.0,669.9 L784.0,672.9 L787.0,672.4 L790.0,671.2 L793.0,671.4 L796.0,670.3 L799.0,671.9 L802.0,670.7 L805.0,672.3 L808.0,671.7 L811.0,671.8 L814.0,672.2 L817.0,669.8 L820.0,669.1 L823.0,669.5 L826.0,669.4 L829.0,669.0 L832.0,668.8 L835.0,670.3 L838.0,671.2 L841.0,669.8 L844.0,671.3 L847.0,671.1 L850.0,668.2 L853.0,669.8 L856.0,669.0 L859.0,668.0 L862.0,670.6 L865.0,668.2 L868.0,669.0 L871.0,669.1 L874.0,670.0 L877.0,669.0 L880.0,668.1 L883.0,668.2 L886.0,667.2 L889.0,669.7 L892.0,669.8 L895.0,667.3 L898.0,666.8 L901.0,667.5 L904.0,667.8 L907.0,669.6 L910.0,669.7 L913.0,669.5 L916.0,667.0 L919.0,669.4 L922.0,669.2 L925.0,669.0 L928.0,670.1 L931.0,667.1 L934.0,667.4 L937.0,669.3 L940.0,669.8 L943.0,668.9 L946.0,667.6 L949.0,668.4 L952.0,668.9 L955.0,666.6 L958.0,667.2 L961.0,666.9 L964.0,666.3 L967.0,667.3 L970.0,666.2 L973.0,666.4 L976.0,666.0 L979.0,667.6 L982.0,665.4 L985.0,667.6 L988.0,665.8 L991.0,665.2 L994.0,668.0 L997.0,665.7 L1000.0,667.9 L1003.0,667.6 L1006.0,667.6 L1009.0,665.1 L1012.0,666.0 L1015.0,664.8 L1018.0,667.4 L1021.0,667.0 L1024.0,666.2 L1027.0,665.5 L1030.0,665.1 L1033.0,666.5 L1036.0,665.3 L1039.0,665.7 L1042.0,664.0 L1045.0,664.1 L1048.0,663.5 L1051.0,665.5 L1054.0,664.8 L1057.0,663.4 L1060.0,665.6 L1063.0,663.5 L1066.0,663.8 L1069.0,662.9 L1072.0,663.2 L1075.0,664.9 L1078.0,663.2 L1081.0,662.5 L1084.0,663.4 L1087.0,662.7 L1090.0,664.5 L1093.0,661.8 L1096.0,664.4 L1099.0,661.2 L1102.0,663.6 L1105.0,662.6 L1108.0,660.9 L1111.0,661.4 L1114.0,660.4 L1117.0,659.9 L1120.0,659.3 L1123.0,659.4 L1126.0,661.0 L1129.0,660.5 L1132.0,659.8 L1135.0,656.7 L1138.0,656.8 L1141.0,658.3 L1144.0,655.1 L1147.0,656.7 L1150.0,654.8 L1153.0,656.5 L1156.0,653.0 L1159.0,655.0 L1162.0,653.0 L1165.0,651.9 L1168.0,650.9 L1171.0,653.0 L1174.0,651.5 L1177.0,649.9 L1180.0,650.1 L1183.0,651.1 L1186.0,648.3 L1189.0,648.8 L1192.0,646.8 L1195.0,646.3 L1198.0,647.5 L1201.0,646.6 L1204.0,644.2 L1207.0,643.1 L1210.0,642.4 L1213.0,643.3 L1216.0,642.2 L1219.0,640.7 L1222.0,639.6 L1225.0,640.1 L1228.0,639.6 L1231.0,639.1 L1234.0,637.5 L1237.0,635.5 L1240.0,634.2 L1243.0,635.5 L1246.0,633.6 L1249.0,633.8 L1252.0,630.8 L1255.0,632.3 L1258.0,629.9 L1261.0,630.6 L1264.0,629.8 L1267.0,627.6 L1270.0,625.1 L1273.0,627.0 L1276.0,624.6 L1279.0,624.8 L1282.0,621.8 L1285.0,620.5 L1288.0,621.4 L1291.0,618.8 L1294.0,617.0 L1297.0,616.4 L1300.0,615.9 L1303.0,612.8 L1306.0,613.3 L1309.0,611.8 L1312.0,610.8 L1315.0,608.2 L1318.0,609.1 L1321.0,608.3 L1324.0,607.3 L1327.0,604.0 L1330.0,604.3 L1333.0,601.7 L1336.0,602.0 L1339.0,597.9 L1342.0,600.1 L1345.0,599.3 L1348.0,596.0 L1351.0,594.8 L1354.0,593.6 L1357.0,592.4 L1360.0,588.6 L1363.0,592.0 L1366.0,587.0 L1369.0,585.5 L1372.0,583.8 L1375.0,583.2 L1378.0,585.0 L1381.0,579.4 L1384.0,578.4 L1387.0,580.5 L1390.0,576.3 L1393.0,573.9 L1396.0,575.9 L1399.0,574.4 L1402.0,572.6 L1405.0,572.3 L1408.0,567.2 L1411.0,570.5 L1414.0,568.1 L1417.0,562.3 L1420.0,561.2 L1423.0,562.1 L1426.0,560.5 L1429.0,557.3 L1432.0,554.5 L1435.0,554.6 L1438.0,550.8 L1441.0,551.9 L1444.0,551.7 L1447.0,544.2 L1450.0,544.9 L1453.0,543.8 L1456.0,536.9 L1459.0,539.5 L1462.0,538.0 L1465.0,531.4 L1468.0,529.5 L1471.0,530.7 L1474.0,526.3 L1477.0,523.3 L1480.0,526.0 L1483.0,523.0 L1486.0,517.7 L1489.0,515.2 L1492.0,514.5 L1495.0,513.8 L1498.0,517.2 L1501.0,514.2 L1504.0,514.0 L1507.0,512.0 L1510.0,511.4 L1513.0,503.2 L1516.0,506.5 L1519.0,509.6" stroke="#000" stroke-width="18"/>
<line x1="255.0" y1="662.9" x2="255.0" y2="673.7" stroke="#000" stroke-width="9"/>
<line x1="265.5" y1="664.9" x2="265.5" y2="674.5" stroke="#000" stroke-width="9"/>
<line x1="276.7" y1="668.6" x2="276.7" y2="675.0" stroke="#000" stroke-width="9"/>
<line x1="287.7" y1="668.9" x2="287.7" y2="673.1" stroke="#000" stroke-width="9"/>
<line x1="301.8" y1="664.1" x2="301.8" y2="678.3" stroke="#000" stroke-width="9"/>
<line x1="313.7" y1="664.0" x2="313.7" y2="678.0" stroke="#000" stroke-width="9"/>
<line x1="327.2" y1="669.0" x2="327.2" y2="676.5" stroke="#000" stroke-width="9"/>
<line x1="336.7" y1="664.9" x2="336.7" y2="674.2" stroke="#000" stroke-width="9"/>
<line x1="348.0" y1="663.5" x2="348.0" y2="676.6" stroke="#000" stroke-width="9"/>
<line x1="357.3" y1="666.2" x2="357.3" y2="675.5" stroke="#000" stroke-width="9"/>
<line x1="371.3" y1="668.0" x2="371.3" y2="675.0" stroke="#000" stroke-width="9"/>
<line x1="383.3" y1="669.3" x2="383.3" y2="677.1" stroke="#000" stroke-width="9"/>
<line x1="397.3" y1="667.1" x2="397.3" y2="675.3" stroke="#000" stroke-width="9"/>
<line x1="408.1" y1="667.1" x2="408.1" y2="674.6" stroke="#000" stroke-width="9"/>
<line x1="416.6" y1="669.7" x2="416.6" y2="675.6" stroke="#000" stroke-width="9"/>
<line x1="427.0" y1="668.8" x2="427.0" y2="675.4" stroke="#000" stroke-width="9"/>
<line x1="435.2" y1="667.2" x2="435.2" y2="679.2" stroke="#000" stroke-width="9"/>
<line x1="447.0" y1="667.0" x2="447.0" y2="678.1" stroke="#000" stroke-width="9"/>
<line x1="456.0" y1="666.2" x2="456.0" y2="676.9" stroke="#000" stroke-width="9"/>
<line x1="467.3" y1="666.9" x2="467.3" y2="677.0" stroke="#000" stroke-width="9"/>
<line x1="477.1" y1="669.4" x2="477.1" y2="675.5" stroke="#000" stroke-width="9"/>
<line x1="488.1" y1="668.6" x2="488.1" y2="678.0" stroke="#000" stroke-width="9"/>
<line x1="495.9" y1="669.0" x2="495.9" y2="680.0" stroke="#000" stroke-width="9"/>
<line x1="505.2" y1="668.0" x2="505.2" y2="677.9" stroke="#000" stroke-width="9"/>
<line x1="514.8" y1="665.5" x2="514.8" y2="676.9" stroke="#000" stroke-width="9"/>
<line x1="527.6" y1="671.1" x2="527.6" y2="675.8" stroke="#000" stroke-width="9"/>
<line x1="541.0" y1="669.5" x2="541.0" y2="675.9" stroke="#000" stroke-width="9"/>
<line x1="551.3" y1="669.6" x2="551.3" y2="680.4" stroke="#000" stroke-width="9"/>
<line x1="559.7" y1="671.1" x2="559.7" y2="681.9" stroke="#000" stroke-width="9"/>
<line x1="572.3" y1="671.6" x2="572.3" y2="677.9" stroke="#000" stroke-width="9"/>
<line x1="582.3" y1="668.3" x2="582.3" y2="679.8" stroke="#000" stroke-width="9"/>
<line x1="595.6" y1="667.4" x2="595.6" y2="679.2" stroke="#000" stroke-width="9"/>
<line x1="608.2" y1="668.0" x2="608.2" y2="680.8" stroke="#000" stroke-width="9"/>
<line x1="619.0" y1="667.7" x2="619.0" y2="680.5" stroke="#000" stroke-width="9"/>
<line x1="632.8" y1="671.9" x2="632.8" y2="681.5" stroke="#000" stroke-width="9"/>
<line x1="640.5" y1="667.8" x2="640.5" y2="679.6" stroke="#000" stroke-width="9"/>
<line x1="651.5" y1="666.4" x2="651.5" y2="679.4" stroke="#000" stroke-width="9"/>
<line x1="661.9" y1="667.4" x2="661.9" y2="681.2" stroke="#000" stroke-width="9"/>
<line x1="673.6" y1="669.7" x2="673.6" y2="678.2" stroke="#000" stroke-width="9"/>
<line x1="684.4" y1="667.2" x2="684.4" y2="676.9" stroke="#000" stroke-width="9"/>
<line x1="694.6" y1="668.0" x2="694.6" y2="677.2" stroke="#000" stroke-width="9"/>
<line x1="704.5" y1="666.3" x2="704.5" y2="679.9" stroke="#000" stroke-width="9"/>
<line x1="715.5" y1="668.2" x2="715.5" y2="675.5" stroke="#000" stroke-width="9"/>
<line x1="725.2" y1="670.0" x2="725.2" y2="677.8" stroke="#000" stroke-width="9"/>
<line x1="736.7" y1="670.1" x2="736.7" y2="679.7" stroke="#000" stroke-width="9"/>
<line x1="746.6" y1="665.1" x2="746.6" y2="679.0" stroke="#000" stroke-width="9"/>
<line x1="760.6" y1="668.9" x2="760.6" y2="676.1" stroke="#000" stroke-width="9"/>
<line x1="774.3" y1="669.9" x2="774.3" y2="673.4" stroke="#000" stroke-width="9"/>
<line x1="785.7" y1="666.5" x2="785.7" y2="678.8" stroke="#000" stroke-width="9"/>
<line x1="798.5" y1="666.0" x2="798.5" y2="679.0" stroke="#000" stroke-width="9"/>
<line x1="809.6" y1="665.9" x2="809.6" y2="676.8" stroke="#000" stroke-width="9"/>
<line x1="819.9" y1="666.7" x2="819.9" y2="676.0" stroke="#000" stroke-width="9"/>
<line x1="829.9" y1="662.6" x2="829.9" y2="676.2" stroke="#000" stroke-width="9"/>
<line x1="841.1" y1="667.7" x2="841.1" y2="674.0" stroke="#000" stroke-width="9"/>
<line x1="851.4" y1="664.4" x2="851.4" y2="674.8" stroke="#000" stroke-width="9"/>
<line x1="864.9" y1="661.2" x2="864.9" y2="673.7" stroke="#000" stroke-width="9"/>
<line x1="875.6" y1="662.9" x2="875.6" y2="676.5" stroke="#000" stroke-width="9"/>
<line x1="885.5" y1="663.3" x2="885.5" y2="675.1" stroke="#000" stroke-width="9"/>
<line x1="894.3" y1="664.6" x2="894.3" y2="676.1" stroke="#000" stroke-width="9"/>
<line x1="907.5" y1="663.5" x2="907.5" y2="670.6" stroke="#000" stroke-width="9"/>
<line x1="921.1" y1="662.5" x2="921.1" y2="675.4" stroke="#000" stroke-width="9"/>
<line x1="935.3" y1="661.2" x2="935.3" y2="672.8" stroke="#000" stroke-width="9"/>
<line x1="944.1" y1="664.9" x2="944.1" y2="673.2" stroke="#000" stroke-width="9"/>
<line x1="955.1" y1="665.1" x2="955.1" y2="670.7" stroke="#000" stroke-width="9"/>
<line x1="967.0" y1="662.0" x2="967.0" y2="671.3" stroke="#000" stroke-width="9"/>
<line x1="981.2" y1="661.3" x2="981.2" y2="668.8" stroke="#000" stroke-width="9"/>
<line x1="991.6" y1="660.1" x2="991.6" y2="670.3" stroke="#000" stroke-width="9"/>
<line x1="1003.9" y1="664.8" x2="1003.9" y2="670.0" stroke="#000" stroke-width="9"/>
<line x1="1017.2" y1="660.7" x2="1017.2" y2="671.9" stroke="#000" stroke-width="9"/>
<line x1="1026.1" y1="660.9" x2="1026.1" y2="670.9" stroke="#000" stroke-width="9"/>
<line x1="1035.6" y1="659.6" x2="1035.6" y2="670.4" stroke="#000" stroke-width="9"/>
<line x1="1049.9" y1="659.5" x2="1049.9" y2="669.1" stroke="#000" stroke-width="9"/>
<line x1="1058.4" y1="661.9" x2="1058.4" y2="670.9" stroke="#000" stroke-width="9"/>
<line x1="1066.8" y1="661.9" x2="1066.8" y2="666.8" stroke="#000" stroke-width="9"/>
<line x1="1077.9" y1="656.8" x2="1077.9" y2="669.2" stroke="#000" stroke-width="9"/>
<line x1="1091.0" y1="661.1" x2="1091.0" y2="664.8" stroke="#000" stroke-width="9"/>
<line x1="1103.7" y1="658.5" x2="1103.7" y2="668.4" stroke="#000" stroke-width="9"/>
<line x1="1113.8" y1="658.4" x2="1113.8" y2="664.4" stroke="#000" stroke-width="9"/>
<line x1="1122.1" y1="652.6" x2="1122.1" y2="665.3" stroke="#000" stroke-width="9"/>
<line x1="1132.1" y1="654.0" x2="1132.1" y2="662.5" stroke="#000" stroke-width="9"/>
<line x1="1140.2" y1="649.8" x2="1140.2" y2="662.5" stroke="#000" stroke-width="9"/>
<line x1="1154.2" y1="650.4" x2="1154.2" y2="660.4" stroke="#000" stroke-width="9"/>
<line x1="1163.6" y1="651.4" x2="1163.6" y2="660.8" stroke="#000" stroke-width="9"/>
<line x1="1176.9" y1="647.3" x2="1176.9" y2="658.3" stroke="#000" stroke-width="9"/>
<line x1="1190.0" y1="644.8" x2="1190.0" y2="653.8" stroke="#000" stroke-width="9"/>
<line x1="1204.0" y1="640.4" x2="1204.0" y2="652.9" stroke="#000" stroke-width="9"/>
<line x1="1213.3" y1="638.8" x2="1213.3" y2="649.1" stroke="#000" stroke-width="9"/>
<line x1="1222.5" y1="636.9" x2="1222.5" y2="647.6" stroke="#000" stroke-width="9"/>
<line x1="1233.4" y1="630.8" x2="1233.4" y2="640.6" stroke="#000" stroke-width="9"/>
<line x1="1242.3" y1="631.1" x2="1242.3" y2="637.8" stroke="#000" stroke-width="9"/>
<line x1="255.0" y1="722.0" x2="255.0" y2="729.6" stroke="#000" stroke-width="9"/>
<line x1="263.5" y1="720.6" x2="263.5" y2="728.6" stroke="#000" stroke-width="9"/>
<line x1="273.8" y1="723.3" x2="273.8" y2="727.1" stroke="#000" stroke-width="9"/>
<line x1="287.0" y1="721.7" x2="287.0" y2="727.8" stroke="#000" stroke-width="9"/>
<line x1="295.9" y1="722.1" x2="295.9" y2="727.8" stroke="#000" stroke-width="9"/>
<line x1="303.9" y1="720.0" x2="303.9" y2="728.4" stroke="#000" stroke-width="9"/>
<line x1="312.6" y1="719.8" x2="312.6" y2="727.0" stroke="#000" stroke-width="9"/>
<line x1="322.1" y1="719.1" x2="322.1" y2="727.3" stroke="#000" stroke-width="9"/>
<line x1="332.7" y1="719.1" x2="332.7" y2="731.1" stroke="#000" stroke-width="9"/>
<line x1="341.4" y1="721.8" x2="341.4" y2="730.6" stroke="#000" stroke-width="9"/>
<line x1="351.6" y1="718.4" x2="351.6" y2="727.8" stroke="#000" stroke-width="9"/>
<line x1="365.6" y1="721.0" x2="365.6" y2="727.9" stroke="#000" stroke-width="9"/>
<line x1="376.3" y1="723.1" x2="376.3" y2="730.6" stroke="#000" stroke-width="9"/>
<line x1="385.7" y1="718.8" x2="385.7" y2="730.0" stroke="#000" stroke-width="9"/>
<line x1="395.8" y1="722.5" x2="395.8" y2="730.1" stroke="#000" stroke-width="9"/>
<line x1="405.0" y1="719.0" x2="405.0" y2="727.4" stroke="#000" stroke-width="9"/>
<line x1="416.0" y1="720.9" x2="416.0" y2="728.2" stroke="#000" stroke-width="9"/>
<line x1="428.8" y1="721.8" x2="428.8" y2="730.4" stroke="#000" stroke-width="9"/>
<line x1="440.3" y1="722.2" x2="440.3" y2="729.0" stroke="#000" stroke-width="9"/>
<line x1="448.5" y1="723.0" x2="448.5" y2="731.6" stroke="#000" stroke-width="9"/>
<line x1="458.4" y1="720.3" x2="458.4" y2="727.4" stroke="#000" stroke-width="9"/>
<line x1="469.8" y1="722.0" x2="469.8" y2="729.6" stroke="#000" stroke-width="9"/>
<line x1="479.4" y1="723.7" x2="479.4" y2="728.6" stroke="#000" stroke-width="9"/>
<line x1="488.6" y1="723.4" x2="488.6" y2="730.9" stroke="#000" stroke-width="9"/>
<line x1="498.2" y1="721.8" x2="498.2" y2="732.0" stroke="#000" stroke-width="9"/>
<line x1="511.0" y1="719.2" x2="511.0" y2="731.7" stroke="#000" stroke-width="9"/>
<line x1="519.6" y1="722.6" x2="519.6" y2="727.1" stroke="#000" stroke-width="9"/>
<line x1="531.8" y1="720.5" x2="531.8" y2="728.9" stroke="#000" stroke-width="9"/>
<line x1="542.2" y1="720.5" x2="542.2" y2="730.9" stroke="#000" stroke-width="9"/>
<line x1="551.5" y1="719.5" x2="551.5" y2="729.0" stroke="#000" stroke-width="9"/>
<line x1="563.4" y1="723.3" x2="563.4" y2="727.7" stroke="#000" stroke-width="9"/>
<line x1="577.1" y1="720.2" x2="577.1" y2="731.1" stroke="#000" stroke-width="9"/>
<line x1="585.1" y1="724.1" x2="585.1" y2="728.0" stroke="#000" stroke-width="9"/>
<line x1="594.1" y1="722.7" x2="594.1" y2="729.3" stroke="#000" stroke-width="9"/>
<line x1="602.0" y1="722.6" x2="602.0" y2="730.8" stroke="#000" stroke-width="9"/>
<line x1="610.9" y1="719.7" x2="610.9" y2="730.4" stroke="#000" stroke-width="9"/>
<line x1="623.3" y1="723.0" x2="623.3" y2="729.7" stroke="#000" stroke-width="9"/>
<line x1="635.6" y1="722.5" x2="635.6" y2="727.3" stroke="#000" stroke-width="9"/>
<line x1="648.8" y1="720.2" x2="648.8" y2="728.9" stroke="#000" stroke-width="9"/>
<line x1="656.8" y1="719.7" x2="656.8" y2="730.7" stroke="#000" stroke-width="9"/>
<line x1="664.8" y1="723.2" x2="664.8" y2="728.0" stroke="#000" stroke-width="9"/>
<line x1="677.7" y1="723.4" x2="677.7" y2="732.5" stroke="#000" stroke-width="9"/>
<line x1="690.3" y1="724.1" x2="690.3" y2="731.3" stroke="#000" stroke-width="9"/>
<line x1="700.6" y1="720.4" x2="700.6" y2="732.0" stroke="#000" stroke-width="9"/>
<line x1="710.2" y1="724.1" x2="710.2" y2="732.7" stroke="#000" stroke-width="9"/>
<line x1="720.7" y1="719.4" x2="720.7" y2="731.3" stroke="#000" stroke-width="9"/>
<line x1="733.3" y1="720.0" x2="733.3" y2="730.9" stroke="#000" stroke-width="9"/>
<line x1="744.0" y1="724.3" x2="744.0" y2="731.3" stroke="#000" stroke-width="9"/>
<line x1="754.5" y1="721.8" x2="754.5" y2="732.6" stroke="#000" stroke-width="9"/>
<line x1="763.0" y1="720.4" x2="763.0" y2="727.7" stroke="#000" stroke-width="9"/>
<line x1="775.4" y1="720.1" x2="775.4" y2="728.9" stroke="#000" stroke-width="9"/>
<line x1="786.7" y1="719.2" x2="786.7" y2="731.0" stroke="#000" stroke-width="9"/>
<line x1="798.0" y1="723.2" x2="798.0" y2="727.7" stroke="#000" stroke-width="9"/>
<line x1="808.0" y1="722.3" x2="808.0" y2="728.5" stroke="#000" stroke-width="9"/>
<line x1="817.8" y1="723.8" x2="817.8" y2="731.4" stroke="#000" stroke-width="9"/>
<line x1="829.9" y1="723.3" x2="829.9" y2="728.7" stroke="#000" stroke-width="9"/>
<line x1="841.0" y1="722.1" x2="841.0" y2="732.6" stroke="#000" stroke-width="9"/>
<line x1="851.0" y1="722.9" x2="851.0" y2="732.3" stroke="#000" stroke-width="9"/>
<line x1="859.7" y1="721.4" x2="859.7" y2="729.2" stroke="#000" stroke-width="9"/>
<line x1="872.7" y1="721.5" x2="872.7" y2="731.6" stroke="#000" stroke-width="9"/>
<line x1="881.5" y1="720.8" x2="881.5" y2="730.7" stroke="#000" stroke-width="9"/>
<line x1="892.3" y1="720.3" x2="892.3" y2="732.0" stroke="#000" stroke-width="9"/>
<line x1="900.7" y1="723.0" x2="900.7" y2="729.4" stroke="#000" stroke-width="9"/>
<line x1="909.8" y1="724.2" x2="909.8" y2="728.9" stroke="#000" stroke-width="9"/>
<line x1="918.8" y1="720.7" x2="918.8" y2="729.9" stroke="#000" stroke-width="9"/>
<line x1="927.3" y1="722.8" x2="927.3" y2="730.0" stroke="#000" stroke-width="9"/>
<line x1="937.4" y1="723.7" x2="937.4" y2="727.8" stroke="#000" stroke-width="9"/>
<line x1="945.1" y1="719.1" x2="945.1" y2="731.6" stroke="#000" stroke-width="9"/>
<line x1="953.4" y1="720.6" x2="953.4" y2="732.9" stroke="#000" stroke-width="9"/>
<line x1="964.8" y1="724.1" x2="964.8" y2="730.2" stroke="#000" stroke-width="9"/>
<line x1="975.4" y1="723.7" x2="975.4" y2="730.6" stroke="#000" stroke-width="9"/>
<line x1="983.1" y1="719.6" x2="983.1" y2="731.2" stroke="#000" stroke-width="9"/>
<line x1="995.0" y1="719.6" x2="995.0" y2="731.3" stroke="#000" stroke-width="9"/>
<line x1="1004.3" y1="723.5" x2="1004.3" y2="728.5" stroke="#000" stroke-width="9"/>
<line x1="1012.2" y1="720.6" x2="1012.2" y2="732.5" stroke="#000" stroke-width="9"/>
<line x1="1021.9" y1="724.0" x2="1021.9" y2="731.4" stroke="#000" stroke-width="9"/>
<line x1="1035.1" y1="719.9" x2="1035.1" y2="728.8" stroke="#000" stroke-width="9"/>
<line x1="1048.0" y1="720.5" x2="1048.0" y2="732.1" stroke="#000" stroke-width="9"/>
<line x1="1057.9" y1="724.2" x2="1057.9" y2="732.6" stroke="#000" stroke-width="9"/>
<line x1="1067.7" y1="723.1" x2="1067.7" y2="731.1" stroke="#000" stroke-width="9"/>
<line x1="1077.8" y1="720.5" x2="1077.8" y2="729.3" stroke="#000" stroke-width="9"/>
<line x1="1085.8" y1="722.0" x2="1085.8" y2="731.5" stroke="#000" stroke-width="9"/>
<line x1="1098.9" y1="721.2" x2="1098.9" y2="733.0" stroke="#000" stroke-width="9"/>
<line x1="1112.8" y1="722.2" x2="1112.8" y2="730.6" stroke="#000" stroke-width="9"/>
<line x1="1121.6" y1="723.1" x2="1121.6" y2="730.8" stroke="#000" stroke-width="9"/>
<line x1="1129.8" y1="720.6" x2="1129.8" y2="728.2" stroke="#000" stroke-width="9"/>
<line x1="1140.4" y1="718.4" x2="1140.4" y2="727.2" stroke="#000" stroke-width="9"/>
<line x1="1148.4" y1="720.8" x2="1148.4" y2="727.1" stroke="#000" stroke-width="9"/>
<line x1="1160.9" y1="721.8" x2="1160.9" y2="729.3" stroke="#000" stroke-width="9"/>
<line x1="1174.2" y1="715.3" x2="1174.2" y2="724.9" stroke="#000" stroke-width="9"/>
<line x1="1183.8" y1="714.3" x2="1183.8" y2="723.7" stroke="#000" stroke-width="9"/>
<line x1="1194.3" y1="714.3" x2="1194.3" y2="721.5" stroke="#000" stroke-width="9"/>
<line x1="1206.4" y1="709.7" x2="1206.4" y2="722.1" stroke="#000" stroke-width="9"/>
<line x1="1215.2" y1="711.2" x2="1215.2" y2="718.2" stroke="#000" stroke-width="9"/>
<line x1="1226.6" y1="709.0" x2="1226.6" y2="714.9" stroke="#000" stroke-width="9"/>
<line x1="1234.8" y1="707.7" x2="1234.8" y2="714.9" stroke="#000" stroke-width="9"/>
<line x1="1248.9" y1="701.7" x2="1248.9" y2="714.5" stroke="#000" stroke-width="9"/>
<line x1="1263.1" y1="698.3" x2="1263.1" y2="710.0" stroke="#000" stroke-width="9"/>
<line x1="1276.1" y1="700.5" x2="1276.1" y2="707.5" stroke="#000" stroke-width="9"/>
<line x1="1287.8" y1="696.9" x2="1287.8" y2="704.6" stroke="#000" stroke-width="9"/>
<line x1="1301.8" y1="693.3" x2="1301.8" y2="702.4" stroke="#000" stroke-width="9"/>
<line x1="1311.5" y1="692.4" x2="1311.5" y2="702.0" stroke="#000" stroke-width="9"/>
<line x1="1319.4" y1="691.8" x2="1319.4" y2="699.5" stroke="#000" stroke-width="9"/>
<line x1="1330.0" y1="690.6" x2="1330.0" y2="697.6" stroke="#000" stroke-width="9"/>
<line x1="1340.2" y1="686.1" x2="1340.2" y2="694.5" stroke="#000" stroke-width="9"/>
<line x1="255.0" y1="779.3" x2="255.0" y2="786.9" stroke="#000" stroke-width="9"/>
<line x1="263.5" y1="781.3" x2="263.5" y2="789.5" stroke="#000" stroke-width="9"/>
<line x1="274.8" y1="781.7" x2="274.8" y2="789.4" stroke="#000" stroke-width="9"/>
<line x1="284.1" y1="781.8" x2="284.1" y2="787.7" stroke="#000" stroke-width="9"/>
<line x1="293.5" y1="779.8" x2="293.5" y2="787.9" stroke="#000" stroke-width="9"/>
<line x1="302.7" y1="779.4" x2="302.7" y2="785.6" stroke="#000" stroke-width="9"/>
<line x1="313.8" y1="779.4" x2="313.8" y2="785.5" stroke="#000" stroke-width="9"/>
<line x1="324.2" y1="782.1" x2="324.2" y2="787.4" stroke="#000" stroke-width="9"/>
<line x1="337.6" y1="779.7" x2="337.6" y2="788.9" stroke="#000" stroke-width="9"/>
<line x1="350.3" y1="782.0" x2="350.3" y2="790.3" stroke="#000" stroke-width="9"/>
<line x1="362.7" y1="782.1" x2="362.7" y2="789.6" stroke="#000" stroke-width="9"/>
<line x1="373.0" y1="781.8" x2="373.0" y2="790.3" stroke="#000" stroke-width="9"/>
<line x1="384.4" y1="778.7" x2="384.4" y2="786.0" stroke="#000" stroke-width="9"/>
<line x1="397.3" y1="782.5" x2="397.3" y2="786.6" stroke="#000" stroke-width="9"/>
<line x1="407.4" y1="782.7" x2="407.4" y2="788.5" stroke="#000" stroke-width="9"/>
<line x1="416.5" y1="781.3" x2="416.5" y2="789.1" stroke="#000" stroke-width="9"/>
<line x1="427.0" y1="778.3" x2="427.0" y2="788.7" stroke="#000" stroke-width="9"/>
<line x1="440.5" y1="780.0" x2="440.5" y2="790.3" stroke="#000" stroke-width="9"/>
<line x1="453.9" y1="782.1" x2="453.9" y2="789.5" stroke="#000" stroke-width="9"/>
<line x1="463.9" y1="779.1" x2="463.9" y2="789.2" stroke="#000" stroke-width="9"/>
<line x1="477.0" y1="782.5" x2="477.0" y2="787.6" stroke="#000" stroke-width="9"/>
<line x1="489.6" y1="778.2" x2="489.6" y2="789.5" stroke="#000" stroke-width="9"/>
<line x1="497.6" y1="780.0" x2="497.6" y2="786.3" stroke="#000" stroke-width="9"/>
<line x1="508.9" y1="779.1" x2="508.9" y2="786.4" stroke="#000" stroke-width="9"/>
<line x1="522.7" y1="779.8" x2="522.7" y2="787.2" stroke="#000" stroke-width="9"/>
<line x1="531.7" y1="781.0" x2="531.7" y2="790.3" stroke="#000" stroke-width="9"/>
<line x1="543.2" y1="782.8" x2="543.2" y2="786.1" stroke="#000" stroke-width="9"/>
<line x1="551.7" y1="779.3" x2="551.7" y2="787.0" stroke="#000" stroke-width="9"/>
<line x1="563.0" y1="782.0" x2="563.0" y2="789.7" stroke="#000" stroke-width="9"/>
<line x1="573.2" y1="782.8" x2="573.2" y2="790.7" stroke="#000" stroke-width="9"/>
<line x1="584.5" y1="780.0" x2="584.5" y2="790.4" stroke="#000" stroke-width="9"/>
<line x1="598.5" y1="783.6" x2="598.5" y2="788.1" stroke="#000" stroke-width="9"/>
<line x1="607.2" y1="781.1" x2="607.2" y2="790.9" stroke="#000" stroke-width="9"/>
<line x1="620.1" y1="783.6" x2="620.1" y2="787.4" stroke="#000" stroke-width="9"/>
<line x1="633.2" y1="780.4" x2="633.2" y2="788.5" stroke="#000" stroke-width="9"/>
<line x1="644.1" y1="783.1" x2="644.1" y2="790.9" stroke="#000" stroke-width="9"/>
<line x1="654.4" y1="779.5" x2="654.4" y2="789.8" stroke="#000" stroke-width="9"/>
<line x1="662.6" y1="782.3" x2="662.6" y2="787.8" stroke="#000" stroke-width="9"/>
<line x1="676.2" y1="781.0" x2="676.2" y2="786.9" stroke="#000" stroke-width="9"/>
<line x1="685.0" y1="782.3" x2="685.0" y2="789.2" stroke="#000" stroke-width="9"/>
<line x1="696.5" y1="782.2" x2="696.5" y2="788.6" stroke="#000" stroke-width="9"/>
<line x1="704.2" y1="781.2" x2="704.2" y2="788.6" stroke="#000" stroke-width="9"/>
<line x1="712.1" y1="781.9" x2="712.1" y2="792.0" stroke="#000" stroke-width="9"/>
<line x1="720.1" y1="783.5" x2="720.1" y2="790.4" stroke="#000" stroke-width="9"/>
<line x1="729.6" y1="782.9" x2="729.6" y2="789.5" stroke="#000" stroke-width="9"/>
<line x1="739.0" y1="781.4" x2="739.0" y2="789.7" stroke="#000" stroke-width="9"/>
<line x1="753.0" y1="779.2" x2="753.0" y2="787.2" stroke="#000" stroke-width="9"/>
<line x1="764.4" y1="780.4" x2="764.4" y2="791.6" stroke="#000" stroke-width="9"/>
<line x1="777.2" y1="781.2" x2="777.2" y2="790.4" stroke="#000" stroke-width="9"/>
<line x1="787.3" y1="783.0" x2="787.3" y2="791.2" stroke="#000" stroke-width="9"/>
<line x1="800.8" y1="779.6" x2="800.8" y2="790.7" stroke="#000" stroke-width="9"/>
<line x1="810.5" y1="780.6" x2="810.5" y2="791.0" stroke="#000" stroke-width="9"/>
<line x1="821.6" y1="781.3" x2="821.6" y2="789.0" stroke="#000" stroke-width="9"/>
<line x1="832.9" y1="782.5" x2="832.9" y2="787.5" stroke="#000" stroke-width="9"/>
<line x1="842.8" y1="783.0" x2="842.8" y2="792.4" stroke="#000" stroke-width="9"/>
<line x1="853.7" y1="782.8" x2="853.7" y2="788.5" stroke="#000" stroke-width="9"/>
<line x1="862.9" y1="782.9" x2="862.9" y2="788.0" stroke="#000" stroke-width="9"/>
<line x1="870.7" y1="780.2" x2="870.7" y2="789.7" stroke="#000" stroke-width="9"/>
<line x1="881.3" y1="781.8" x2="881.3" y2="788.9" stroke="#000" stroke-width="9"/>
<line x1="890.1" y1="784.4" x2="890.1" y2="788.9" stroke="#000" stroke-width="9"/>
<line x1="899.9" y1="781.0" x2="899.9" y2="790.3" stroke="#000" stroke-width="9"/>
<line x1="913.8" y1="783.8" x2="913.8" y2="790.8" stroke="#000" stroke-width="9"/>
<line x1="925.3" y1="784.9" x2="925.3" y2="787.9" stroke="#000" stroke-width="9"/>
<line x1="936.8" y1="781.3" x2="936.8" y2="788.7" stroke="#000" stroke-width="9"/>
<line x1="949.7" y1="783.6" x2="949.7" y2="790.8" stroke="#000" stroke-width="9"/>
<line x1="957.8" y1="783.4" x2="957.8" y2="790.9" stroke="#000" stroke-width="9"/>
<line x1="967.3" y1="784.3" x2="967.3" y2="787.4" stroke="#000" stroke-width="9"/>
<line x1="976.1" y1="784.3" x2="976.1" y2="790.2" stroke="#000" stroke-width="9"/>
<line x1="985.3" y1="783.8" x2="985.3" y2="788.2" stroke="#000" stroke-width="9"/>
<line x1="996.9" y1="782.0" x2="996.9" y2="790.1" stroke="#000" stroke-width="9"/>
<line x1="1005.9" y1="782.6" x2="1005.9" y2="791.4" stroke="#000" stroke-width="9"/>
<line x1="1017.6" y1="785.4" x2="1017.6" y2="790.9" stroke="#000" stroke-width="9"/>
<line x1="1031.1" y1="784.6" x2="1031.1" y2="788.5" stroke="#000" stroke-width="9"/>
<line x1="1040.0" y1="783.9" x2="1040.0" y2="791.6" stroke="#000" stroke-width="9"/>
<line x1="1051.9" y1="782.6" x2="1051.9" y2="789.2" stroke="#000" stroke-width="9"/>
<line x1="1061.8" y1="783.5" x2="1061.8" y2="791.1" stroke="#000" stroke-width="9"/>
<line x1="1072.2" y1="783.9" x2="1072.2" y2="789.9" stroke="#000" stroke-width="9"/>
<line x1="1080.3" y1="785.0" x2="1080.3" y2="788.8" stroke="#000" stroke-width="9"/>
<line x1="1092.1" y1="785.3" x2="1092.1" y2="790.6" stroke="#000" stroke-width="9"/>
<line x1="1103.7" y1="785.4" x2="1103.7" y2="790.3" stroke="#000" stroke-width="9"/>
<line x1="1111.5" y1="782.5" x2="1111.5" y2="790.5" stroke="#000" stroke-width="9"/>
<line x1="1125.7" y1="785.5" x2="1125.7" y2="790.2" stroke="#000" stroke-width="9"/>
<line x1="1138.2" y1="783.9" x2="1138.2" y2="787.6" stroke="#000" stroke-width="9"/>
<line x1="1146.9" y1="784.2" x2="1146.9" y2="789.8" stroke="#000" stroke-width="9"/>
<line x1="1155.2" y1="781.0" x2="1155.2" y2="788.0" stroke="#000" stroke-width="9"/>
<line x1="1166.5" y1="781.3" x2="1166.5" y2="787.9" stroke="#000" stroke-width="9"/>
<line x1="1178.5" y1="780.6" x2="1178.5" y2="786.3" stroke="#000" stroke-width="9"/>
<line x1="1191.1" y1="781.2" x2="1191.1" y2="787.1" stroke="#000" stroke-width="9"/>
<line x1="1203.9" y1="778.4" x2="1203.9" y2="784.7" stroke="#000" stroke-width="9"/>
<line x1="1216.7" y1="776.7" x2="1216.7" y2="784.4" stroke="#000" stroke-width="9"/>
<line x1="1226.2" y1="777.8" x2="1226.2" y2="785.6" stroke="#000" stroke-width="9"/>
<line x1="1234.8" y1="779.2" x2="1234.8" y2="783.1" stroke="#000" stroke-width="9"/>
<line x1="1246.8" y1="775.2" x2="1246.8" y2="781.8" stroke="#000" stroke-width="9"/>
<line x1="1261.0" y1="776.4" x2="1261.0" y2="782.3" stroke="#000" stroke-width="9"/>
<line x1="1269.3" y1="776.6" x2="1269.3" y2="779.3" stroke="#000" stroke-width="9"/>
<line x1="1277.4" y1="774.3" x2="1277.4" y2="780.5" stroke="#000" stroke-width="9"/>
<line x1="1286.3" y1="772.1" x2="1286.3" y2="779.3" stroke="#000" stroke-width="9"/>
<line x1="1295.0" y1="774.8" x2="1295.0" y2="780.4" stroke="#000" stroke-width="9"/>
<line x1="1308.8" y1="774.3" x2="1308.8" y2="777.1" stroke="#000" stroke-width="9"/>
<line x1="1321.6" y1="773.6" x2="1321.6" y2="780.5" stroke="#000" stroke-width="9"/>
<line x1="1332.6" y1="771.7" x2="1332.6" y2="777.6" stroke="#000" stroke-width="9"/>
<line x1="1345.6" y1="772.1" x2="1345.6" y2="777.2" stroke="#000" stroke-width="9"/>
<line x1="1359.3" y1="773.3" x2="1359.3" y2="778.6" stroke="#000" stroke-width="9"/>
<line x1="1367.4" y1="771.0" x2="1367.4" y2="777.2" stroke="#000" stroke-width="9"/>
<line x1="1380.8" y1="773.2" x2="1380.8" y2="777.7" stroke="#000" stroke-width="9"/>
<line x1="1391.2" y1="770.0" x2="1391.2" y2="779.4" stroke="#000" stroke-width="9"/>
<line x1="255.0" y1="853.1" x2="255.0" y2="857.0" stroke="#000" stroke-width="9"/>
<line x1="266.1" y1="852.3" x2="266.1" y2="857.0" stroke="#000" stroke-width="9"/>
<line x1="276.8" y1="851.0" x2="276.8" y2="858.6" stroke="#000" stroke-width="9"/>
<line x1="288.3" y1="850.1" x2="288.3" y2="856.9" stroke="#000" stroke-width="9"/>
<line x1="301.8" y1="853.5" x2="301.8" y2="859.6" stroke="#000" stroke-width="9"/>
<line x1="317.7" y1="853.1" x2="317.7" y2="859.1" stroke="#000" stroke-width="9"/>
<line x1="333.2" y1="853.0" x2="333.2" y2="857.5" stroke="#000" stroke-width="9"/>
<line x1="346.1" y1="850.6" x2="346.1" y2="856.8" stroke="#000" stroke-width="9"/>
<line x1="360.5" y1="851.8" x2="360.5" y2="858.0" stroke="#000" stroke-width="9"/>
<line x1="374.1" y1="850.7" x2="374.1" y2="857.1" stroke="#000" stroke-width="9"/>
<line x1="390.1" y1="852.8" x2="390.1" y2="859.4" stroke="#000" stroke-width="9"/>
<line x1="406.0" y1="853.6" x2="406.0" y2="859.8" stroke="#000" stroke-width="9"/>
<line x1="422.8" y1="853.1" x2="422.8" y2="856.4" stroke="#000" stroke-width="9"/>
<line x1="432.8" y1="850.5" x2="432.8" y2="856.4" stroke="#000" stroke-width="9"/>
<line x1="449.0" y1="853.8" x2="449.0" y2="859.3" stroke="#000" stroke-width="9"/>
<line x1="458.9" y1="853.7" x2="458.9" y2="859.1" stroke="#000" stroke-width="9"/>
<line x1="468.7" y1="853.1" x2="468.7" y2="860.1" stroke="#000" stroke-width="9"/>
<line x1="483.3" y1="850.9" x2="483.3" y2="860.4" stroke="#000" stroke-width="9"/>
<line x1="492.7" y1="853.5" x2="492.7" y2="859.7" stroke="#000" stroke-width="9"/>
<line x1="507.2" y1="854.4" x2="507.2" y2="858.5" stroke="#000" stroke-width="9"/>
<line x1="518.1" y1="852.8" x2="518.1" y2="856.9" stroke="#000" stroke-width="9"/>
<line x1="527.3" y1="850.6" x2="527.3" y2="857.8" stroke="#000" stroke-width="9"/>
<line x1="543.3" y1="854.1" x2="543.3" y2="858.5" stroke="#000" stroke-width="9"/>
<line x1="553.5" y1="852.8" x2="553.5" y2="857.3" stroke="#000" stroke-width="9"/>
<line x1="567.9" y1="854.0" x2="567.9" y2="859.5" stroke="#000" stroke-width="9"/>
<line x1="580.9" y1="854.1" x2="580.9" y2="858.0" stroke="#000" stroke-width="9"/>
<line x1="593.9" y1="850.9" x2="593.9" y2="857.9" stroke="#000" stroke-width="9"/>
<line x1="604.7" y1="850.7" x2="604.7" y2="860.1" stroke="#000" stroke-width="9"/>
<line x1="619.5" y1="853.5" x2="619.5" y2="857.3" stroke="#000" stroke-width="9"/>
<line x1="630.6" y1="854.3" x2="630.6" y2="856.8" stroke="#000" stroke-width="9"/>
<line x1="643.7" y1="853.0" x2="643.7" y2="858.9" stroke="#000" stroke-width="9"/>
<line x1="655.6" y1="854.6" x2="655.6" y2="859.4" stroke="#000" stroke-width="9"/>
<line x1="669.8" y1="852.6" x2="669.8" y2="859.0" stroke="#000" stroke-width="9"/>
<line x1="684.3" y1="850.9" x2="684.3" y2="860.4" stroke="#000" stroke-width="9"/>
<line x1="699.0" y1="853.4" x2="699.0" y2="858.3" stroke="#000" stroke-width="9"/>
<line x1="711.4" y1="851.2" x2="711.4" y2="858.7" stroke="#000" stroke-width="9"/>
<line x1="723.5" y1="853.6" x2="723.5" y2="857.8" stroke="#000" stroke-width="9"/>
<line x1="740.4" y1="855.4" x2="740.4" y2="859.9" stroke="#000" stroke-width="9"/>
<line x1="756.7" y1="854.6" x2="756.7" y2="860.1" stroke="#000" stroke-width="9"/>
<line x1="768.7" y1="854.9" x2="768.7" y2="858.6" stroke="#000" stroke-width="9"/>
<line x1="778.7" y1="852.6" x2="778.7" y2="861.1" stroke="#000" stroke-width="9"/>
<line x1="794.9" y1="856.0" x2="794.9" y2="861.0" stroke="#000" stroke-width="9"/>
<line x1="806.6" y1="853.8" x2="806.6" y2="860.6" stroke="#000" stroke-width="9"/>
<line x1="818.1" y1="852.7" x2="818.1" y2="858.6" stroke="#000" stroke-width="9"/>
<line x1="833.0" y1="853.4" x2="833.0" y2="860.8" stroke="#000" stroke-width="9"/>
<line x1="846.8" y1="853.0" x2="846.8" y2="859.9" stroke="#000" stroke-width="9"/>
<line x1="860.8" y1="854.3" x2="860.8" y2="860.8" stroke="#000" stroke-width="9"/>
<line x1="875.4" y1="855.9" x2="875.4" y2="861.6" stroke="#000" stroke-width="9"/>
<line x1="889.3" y1="855.0" x2="889.3" y2="861.0" stroke="#000" stroke-width="9"/>
<line x1="903.3" y1="855.8" x2="903.3" y2="860.8" stroke="#000" stroke-width="9"/>
<line x1="917.2" y1="857.1" x2="917.2" y2="863.8" stroke="#000" stroke-width="9"/>
<line x1="930.0" y1="855.5" x2="930.0" y2="862.5" stroke="#000" stroke-width="9"/>
<line x1="942.8" y1="857.7" x2="942.8" y2="861.2" stroke="#000" stroke-width="9"/>
<line x1="959.1" y1="856.7" x2="959.1" y2="863.0" stroke="#000" stroke-width="9"/>
<line x1="972.3" y1="855.8" x2="972.3" y2="862.0" stroke="#000" stroke-width="9"/>
<line x1="982.8" y1="855.9" x2="982.8" y2="863.1" stroke="#000" stroke-width="9"/>
<line x1="996.9" y1="856.1" x2="996.9" y2="865.0" stroke="#000" stroke-width="9"/>
<line x1="1012.7" y1="859.5" x2="1012.7" y2="863.2" stroke="#000" stroke-width="9"/>
<line x1="1028.3" y1="856.7" x2="1028.3" y2="862.4" stroke="#000" stroke-width="9"/>
<line x1="1038.6" y1="859.1" x2="1038.6" y2="862.5" stroke="#000" stroke-width="9"/>
<line x1="1050.5" y1="857.1" x2="1050.5" y2="864.4" stroke="#000" stroke-width="9"/>
<line x1="1063.2" y1="860.1" x2="1063.2" y2="864.1" stroke="#000" stroke-width="9"/>
<line x1="1080.0" y1="857.9" x2="1080.0" y2="864.5" stroke="#000" stroke-width="9"/>
<line x1="1092.9" y1="857.7" x2="1092.9" y2="865.9" stroke="#000" stroke-width="9"/>
<line x1="1103.1" y1="858.3" x2="1103.1" y2="864.5" stroke="#000" stroke-width="9"/>
<line x1="1116.3" y1="860.3" x2="1116.3" y2="864.7" stroke="#000" stroke-width="9"/>
<line x1="1128.0" y1="859.9" x2="1128.0" y2="863.5" stroke="#000" stroke-width="9"/>
<line x1="1138.7" y1="859.3" x2="1138.7" y2="863.8" stroke="#000" stroke-width="9"/>
<line x1="1149.2" y1="858.9" x2="1149.2" y2="864.9" stroke="#000" stroke-width="9"/>
<line x1="1160.8" y1="861.0" x2="1160.8" y2="867.3" stroke="#000" stroke-width="9"/>
<line x1="1170.6" y1="859.5" x2="1170.6" y2="867.4" stroke="#000" stroke-width="9"/>
<line x1="1181.3" y1="860.4" x2="1181.3" y2="867.2" stroke="#000" stroke-width="9"/>
<line x1="1195.2" y1="860.5" x2="1195.2" y2="864.2" stroke="#000" stroke-width="9"/>
<line x1="1207.8" y1="860.4" x2="1207.8" y2="866.7" stroke="#000" stroke-width="9"/>
<line x1="1219.2" y1="860.0" x2="1219.2" y2="866.2" stroke="#000" stroke-width="9"/>
<line x1="1234.6" y1="859.8" x2="1234.6" y2="864.8" stroke="#000" stroke-width="9"/>
<line x1="1248.2" y1="857.1" x2="1248.2" y2="863.6" stroke="#000" stroke-width="9"/>
<line x1="1264.9" y1="857.4" x2="1264.9" y2="863.7" stroke="#000" stroke-width="9"/>
<line x1="1279.2" y1="858.3" x2="1279.2" y2="861.9" stroke="#000" stroke-width="9"/>
<line x1="1294.2" y1="857.5" x2="1294.2" y2="863.1" stroke="#000" stroke-width="9"/>
<line x1="1307.2" y1="854.7" x2="1307.2" y2="863.3" stroke="#000" stroke-width="9"/>
<line x1="1316.5" y1="855.4" x2="1316.5" y2="861.6" stroke="#000" stroke-width="9"/>
<line x1="1329.2" y1="853.6" x2="1329.2" y2="860.6" stroke="#000" stroke-width="9"/>
<line x1="1342.0" y1="852.7" x2="1342.0" y2="860.0" stroke="#000" stroke-width="9"/>
<line x1="1354.9" y1="853.5" x2="1354.9" y2="860.9" stroke="#000" stroke-width="9"/>
<line x1="1369.2" y1="852.1" x2="1369.2" y2="858.7" stroke="#000" stroke-width="9"/>
<line x1="1378.6" y1="852.2" x2="1378.6" y2="859.1" stroke="#000" stroke-width="9"/>
<line x1="1393.7" y1="852.2" x2="1393.7" y2="857.7" stroke="#000" stroke-width="9"/>
<line x1="1404.6" y1="855.3" x2="1404.6" y2="860.9" stroke="#000" stroke-width="9"/>
<line x1="1414.5" y1="855.7" x2="1414.5" y2="861.0" stroke="#000" stroke-width="9"/>
<line x1="1428.0" y1="856.0" x2="1428.0" y2="861.0" stroke="#000" stroke-width="9"/>
<line x1="1442.6" y1="853.9" x2="1442.6" y2="858.1" stroke="#000" stroke-width="9"/>
<line x1="1457.1" y1="852.8" x2="1457.1" y2="858.8" stroke="#000" stroke-width="9"/>
<line x1="1474.0" y1="848.9" x2="1474.0" y2="857.6" stroke="#000" stroke-width="9"/>
<line x1="1484.2" y1="849.3" x2="1484.2" y2="854.7" stroke="#000" stroke-width="9"/>
<line x1="1493.4" y1="845.6" x2="1493.4" y2="852.6" stroke="#000" stroke-width="9"/>
<line x1="1504.5" y1="847.3" x2="1504.5" y2="851.6" stroke="#000" stroke-width="9"/>
<line x1="1520.3" y1="845.6" x2="1520.3" y2="851.9" stroke="#000" stroke-width="9"/>
<line x1="1532.7" y1="847.2" x2="1532.7" y2="850.6" stroke="#000" stroke-width="9"/>
<line x1="1548.5" y1="843.5" x2="1548.5" y2="852.1" stroke="#000" stroke-width="9"/>
<line x1="1559.7" y1="845.0" x2="1559.7" y2="848.1" stroke="#000" stroke-width="9"/>
<line x1="1572.9" y1="842.8" x2="1572.9" y2="848.1" stroke="#000" stroke-width="9"/>
<line x1="1585.9" y1="839.9" x2="1585.9" y2="845.7" stroke="#000" stroke-width="9"/>
<line x1="1601.2" y1="838.5" x2="1601.2" y2="845.0" stroke="#000" stroke-width="9"/>
<line x1="1614.6" y1="835.8" x2="1614.6" y2="839.2" stroke="#000" stroke-width="9"/>
<line x1="1627.9" y1="830.7" x2="1627.9" y2="836.6" stroke="#000" stroke-width="9"/>
<line x1="1639.5" y1="828.3" x2="1639.5" y2="834.6" stroke="#000" stroke-width="9"/>
<line x1="1650.9" y1="823.8" x2="1650.9" y2="831.8" stroke="#000" stroke-width="9"/>
<line x1="1664.6" y1="821.7" x2="1664.6" y2="829.2" stroke="#000" stroke-width="9"/>
<line x1="1677.2" y1="817.5" x2="1677.2" y2="823.2" stroke="#000" stroke-width="9"/>
<line x1="1689.7" y1="816.1" x2="1689.7" y2="820.8" stroke="#000" stroke-width="9"/>
<line x1="1705.5" y1="815.6" x2="1705.5" y2="820.2" stroke="#000" stroke-width="9"/>
<line x1="1716.0" y1="810.9" x2="1716.0" y2="818.8" stroke="#000" stroke-width="9"/>
<line x1="1731.3" y1="813.0" x2="1731.3" y2="819.7" stroke="#000" stroke-width="9"/>
<line x1="1745.7" y1="818.8" x2="1745.7" y2="822.8" stroke="#000" stroke-width="9"/>
<line x1="1761.4" y1="813.4" x2="1761.4" y2="819.7" stroke="#000" stroke-width="9"/>
<line x1="1772.1" y1="816.4" x2="1772.1" y2="819.2" stroke="#000" stroke-width="9"/>
<line x1="1787.3" y1="818.7" x2="1787.3" y2="826.1" stroke="#000" stroke-width="9"/>
<line x1="1801.5" y1="822.7" x2="1801.5" y2="829.3" stroke="#000" stroke-width="9"/>
<line x1="1250.0" y1="629.3" x2="1250.0" y2="635.9" stroke="#000" stroke-width="12"/>
<line x1="1255.6" y1="627.8" x2="1255.6" y2="636.9" stroke="#000" stroke-width="12"/>
<line x1="1260.0" y1="625.8" x2="1260.0" y2="635.0" stroke="#000" stroke-width="12"/>
<line x1="1264.4" y1="623.1" x2="1264.4" y2="632.4" stroke="#000" stroke-width="12"/>
<line x1="1270.7" y1="621.7" x2="1270.7" y2="633.1" stroke="#000" stroke-width="12"/>
<line x1="1274.6" y1="618.4" x2="1274.6" y2="632.6" stroke="#000" stroke-width="12"/>
<line x1="1279.3" y1="619.5" x2="1279.3" y2="628.9" stroke="#000" stroke-width="12"/>
<line x1="1284.7" y1="616.6" x2="1284.7" y2="627.8" stroke="#000" stroke-width="12"/>
<line x1="1288.5" y1="614.1" x2="1288.5" y2="627.3" stroke="#000" stroke-width="12"/>
<line x1="1293.3" y1="611.1" x2="1293.3" y2="623.1" stroke="#000" stroke-width="12"/>
<line x1="1299.3" y1="610.9" x2="1299.3" y2="624.6" stroke="#000" stroke-width="12"/>
<line x1="1305.8" y1="604.4" x2="1305.8" y2="620.4" stroke="#000" stroke-width="12"/>
<line x1="1310.1" y1="605.2" x2="1310.1" y2="619.7" stroke="#000" stroke-width="12"/>
<line x1="1315.1" y1="600.2" x2="1315.1" y2="614.7" stroke="#000" stroke-width="12"/>
<line x1="1320.1" y1="598.3" x2="1320.1" y2="615.3" stroke="#000" stroke-width="12"/>
<line x1="1325.2" y1="600.0" x2="1325.2" y2="611.1" stroke="#000" stroke-width="12"/>
<line x1="1329.5" y1="594.0" x2="1329.5" y2="613.0" stroke="#000" stroke-width="12"/>
<line x1="1333.7" y1="592.0" x2="1333.7" y2="607.3" stroke="#000" stroke-width="12"/>
<line x1="1339.0" y1="589.4" x2="1339.0" y2="606.8" stroke="#000" stroke-width="12"/>
<line x1="1345.3" y1="588.2" x2="1345.3" y2="602.8" stroke="#000" stroke-width="12"/>
<line x1="1349.8" y1="587.3" x2="1349.8" y2="602.1" stroke="#000" stroke-width="12"/>
<line x1="1355.5" y1="586.2" x2="1355.5" y2="602.8" stroke="#000" stroke-width="12"/>
<line x1="1359.9" y1="584.9" x2="1359.9" y2="599.8" stroke="#000" stroke-width="12"/>
<line x1="1363.7" y1="580.4" x2="1363.7" y2="599.6" stroke="#000" stroke-width="12"/>
<line x1="1369.0" y1="578.5" x2="1369.0" y2="593.2" stroke="#000" stroke-width="12"/>
<line x1="1374.1" y1="578.4" x2="1374.1" y2="594.8" stroke="#000" stroke-width="12"/>
<line x1="1378.0" y1="573.7" x2="1378.0" y2="591.5" stroke="#000" stroke-width="12"/>
<line x1="1382.6" y1="570.9" x2="1382.6" y2="588.6" stroke="#000" stroke-width="12"/>
<line x1="1386.6" y1="567.1" x2="1386.6" y2="588.1" stroke="#000" stroke-width="12"/>
<line x1="1392.6" y1="564.4" x2="1392.6" y2="586.7" stroke="#000" stroke-width="12"/>
<line x1="1396.6" y1="567.6" x2="1396.6" y2="587.9" stroke="#000" stroke-width="12"/>
<line x1="1400.4" y1="562.8" x2="1400.4" y2="584.0" stroke="#000" stroke-width="12"/>
<line x1="1404.3" y1="560.9" x2="1404.3" y2="579.7" stroke="#000" stroke-width="12"/>
<line x1="1409.4" y1="557.9" x2="1409.4" y2="579.0" stroke="#000" stroke-width="12"/>
<line x1="1413.5" y1="556.5" x2="1413.5" y2="576.0" stroke="#000" stroke-width="12"/>
<line x1="1417.3" y1="555.6" x2="1417.3" y2="579.4" stroke="#000" stroke-width="12"/>
<line x1="1422.3" y1="547.6" x2="1422.3" y2="570.5" stroke="#000" stroke-width="12"/>
<line x1="1428.7" y1="547.0" x2="1428.7" y2="573.5" stroke="#000" stroke-width="12"/>
<line x1="1433.9" y1="542.2" x2="1433.9" y2="566.0" stroke="#000" stroke-width="12"/>
<line x1="1439.6" y1="542.7" x2="1439.6" y2="562.7" stroke="#000" stroke-width="12"/>
<line x1="1443.2" y1="538.0" x2="1443.2" y2="562.3" stroke="#000" stroke-width="12"/>
<line x1="1447.6" y1="530.3" x2="1447.6" y2="555.4" stroke="#000" stroke-width="12"/>
<line x1="1452.8" y1="531.6" x2="1452.8" y2="555.6" stroke="#000" stroke-width="12"/>
<line x1="1458.7" y1="522.7" x2="1458.7" y2="546.3" stroke="#000" stroke-width="12"/>
<line x1="1462.9" y1="520.3" x2="1462.9" y2="550.7" stroke="#000" stroke-width="12"/>
<line x1="1466.6" y1="517.4" x2="1466.6" y2="545.5" stroke="#000" stroke-width="12"/>
<line x1="1472.5" y1="515.6" x2="1472.5" y2="542.4" stroke="#000" stroke-width="12"/>
<line x1="1477.4" y1="507.6" x2="1477.4" y2="532.5" stroke="#000" stroke-width="12"/>
<line x1="1483.7" y1="508.3" x2="1483.7" y2="532.2" stroke="#000" stroke-width="12"/>
<line x1="1487.5" y1="507.6" x2="1487.5" y2="533.0" stroke="#000" stroke-width="12"/>
<line x1="1493.0" y1="505.6" x2="1493.0" y2="526.8" stroke="#000" stroke-width="12"/>
<line x1="1496.9" y1="503.3" x2="1496.9" y2="523.8" stroke="#000" stroke-width="12"/>
<line x1="1350.0" y1="684.2" x2="1350.0" y2="694.1" stroke="#000" stroke-width="9"/>
<line x1="1355.9" y1="685.1" x2="1355.9" y2="691.2" stroke="#000" stroke-width="9"/>
<line x1="1361.7" y1="682.3" x2="1361.7" y2="691.3" stroke="#000" stroke-width="9"/>
<line x1="1367.1" y1="684.3" x2="1367.1" y2="690.0" stroke="#000" stroke-width="9"/>
<line x1="1373.2" y1="680.7" x2="1373.2" y2="686.7" stroke="#000" stroke-width="9"/>
<line x1="1378.8" y1="681.5" x2="1378.8" y2="686.0" stroke="#000" stroke-width="9"/>
<line x1="1385.2" y1="678.9" x2="1385.2" y2="687.7" stroke="#000" stroke-width="9"/>
<line x1="1389.1" y1="677.5" x2="1389.1" y2="688.0" stroke="#000" stroke-width="9"/>
<line x1="1395.3" y1="676.9" x2="1395.3" y2="686.7" stroke="#000" stroke-width="9"/>
<line x1="1401.2" y1="676.7" x2="1401.2" y2="684.0" stroke="#000" stroke-width="9"/>
<line x1="1407.2" y1="674.7" x2="1407.2" y2="685.3" stroke="#000" stroke-width="9"/>
<line x1="1411.6" y1="672.9" x2="1411.6" y2="682.9" stroke="#000" stroke-width="9"/>
<line x1="1417.9" y1="675.7" x2="1417.9" y2="683.8" stroke="#000" stroke-width="9"/>
<line x1="1423.8" y1="673.4" x2="1423.8" y2="681.7" stroke="#000" stroke-width="9"/>
<line x1="1428.0" y1="672.4" x2="1428.0" y2="678.5" stroke="#000" stroke-width="9"/>
<line x1="1432.2" y1="669.4" x2="1432.2" y2="679.5" stroke="#000" stroke-width="9"/>
<line x1="1437.8" y1="666.0" x2="1437.8" y2="674.7" stroke="#000" stroke-width="9"/>
<line x1="1443.6" y1="663.1" x2="1443.6" y2="674.0" stroke="#000" stroke-width="9"/>
<line x1="1449.9" y1="660.1" x2="1449.9" y2="669.8" stroke="#000" stroke-width="9"/>
<line x1="1453.7" y1="659.3" x2="1453.7" y2="670.6" stroke="#000" stroke-width="9"/>
<line x1="1458.2" y1="657.5" x2="1458.2" y2="668.6" stroke="#000" stroke-width="9"/>
<line x1="1464.1" y1="658.2" x2="1464.1" y2="664.1" stroke="#000" stroke-width="9"/>
<line x1="1467.7" y1="655.9" x2="1467.7" y2="664.5" stroke="#000" stroke-width="9"/>
<line x1="1472.4" y1="650.7" x2="1472.4" y2="660.2" stroke="#000" stroke-width="9"/>
<line x1="1476.9" y1="650.9" x2="1476.9" y2="657.5" stroke="#000" stroke-width="9"/>
<line x1="1482.9" y1="645.2" x2="1482.9" y2="654.2" stroke="#000" stroke-width="9"/>
<line x1="1486.7" y1="645.4" x2="1486.7" y2="654.9" stroke="#000" stroke-width="9"/>
<line x1="1491.5" y1="640.3" x2="1491.5" y2="653.3" stroke="#000" stroke-width="9"/>
<line x1="1495.4" y1="638.1" x2="1495.4" y2="646.3" stroke="#000" stroke-width="9"/>
<line x1="1501.4" y1="638.4" x2="1501.4" y2="645.0" stroke="#000" stroke-width="9"/>
<line x1="1507.7" y1="634.2" x2="1507.7" y2="641.8" stroke="#000" stroke-width="9"/>
<line x1="1513.9" y1="629.9" x2="1513.9" y2="644.2" stroke="#000" stroke-width="9"/>
<line x1="1518.6" y1="629.0" x2="1518.6" y2="643.2" stroke="#000" stroke-width="9"/>
<line x1="1523.6" y1="624.0" x2="1523.6" y2="636.3" stroke="#000" stroke-width="9"/>
<line x1="1529.6" y1="628.6" x2="1529.6" y2="637.6" stroke="#000" stroke-width="9"/>
<line x1="1533.1" y1="627.8" x2="1533.1" y2="640.1" stroke="#000" stroke-width="9"/>
<line x1="1538.0" y1="621.9" x2="1538.0" y2="633.9" stroke="#000" stroke-width="9"/>
<line x1="1542.5" y1="626.4" x2="1542.5" y2="635.5" stroke="#000" stroke-width="9"/>
<line x1="1548.6" y1="621.8" x2="1548.6" y2="632.8" stroke="#000" stroke-width="9"/>
<line x1="1554.9" y1="616.5" x2="1554.9" y2="634.0" stroke="#000" stroke-width="9"/>
<line x1="1558.6" y1="617.5" x2="1558.6" y2="631.4" stroke="#000" stroke-width="9"/>
<line x1="1565.0" y1="617.6" x2="1565.0" y2="632.2" stroke="#000" stroke-width="9"/>
<line x1="1570.4" y1="615.6" x2="1570.4" y2="629.7" stroke="#000" stroke-width="9"/>
<line x1="1575.9" y1="608.0" x2="1575.9" y2="628.3" stroke="#000" stroke-width="9"/>
<line x1="1580.5" y1="605.2" x2="1580.5" y2="622.3" stroke="#000" stroke-width="9"/>
<line x1="1586.5" y1="605.9" x2="1586.5" y2="626.4" stroke="#000" stroke-width="9"/>
<line x1="1591.4" y1="603.3" x2="1591.4" y2="628.6" stroke="#000" stroke-width="9"/>
<line x1="1597.1" y1="601.4" x2="1597.1" y2="616.0" stroke="#000" stroke-width="9"/>
<line x1="1601.5" y1="606.5" x2="1601.5" y2="624.0" stroke="#000" stroke-width="9"/>
<line x1="1607.7" y1="603.7" x2="1607.7" y2="616.7" stroke="#000" stroke-width="9"/>
<line x1="1612.9" y1="602.5" x2="1612.9" y2="612.0" stroke="#000" stroke-width="9"/>
<line x1="1618.7" y1="594.5" x2="1618.7" y2="608.3" stroke="#000" stroke-width="9"/>
<line x1="1624.5" y1="595.5" x2="1624.5" y2="609.0" stroke="#000" stroke-width="9"/>
<line x1="1629.2" y1="586.3" x2="1629.2" y2="608.8" stroke="#000" stroke-width="9"/>
<line x1="1635.1" y1="586.9" x2="1635.1" y2="604.4" stroke="#000" stroke-width="9"/>
<line x1="1641.5" y1="583.9" x2="1641.5" y2="606.5" stroke="#000" stroke-width="9"/>
<line x1="1645.9" y1="588.9" x2="1645.9" y2="604.2" stroke="#000" stroke-width="9"/>
<line x1="1651.8" y1="578.8" x2="1651.8" y2="599.8" stroke="#000" stroke-width="9"/>
<line x1="1655.8" y1="581.1" x2="1655.8" y2="605.4" stroke="#000" stroke-width="9"/>
<line x1="1659.7" y1="577.1" x2="1659.7" y2="595.1" stroke="#000" stroke-width="9"/>
<line x1="1664.2" y1="584.6" x2="1664.2" y2="595.5" stroke="#000" stroke-width="9"/>
<line x1="1668.8" y1="571.7" x2="1668.8" y2="602.8" stroke="#000" stroke-width="9"/>
<line x1="1672.9" y1="579.2" x2="1672.9" y2="601.7" stroke="#000" stroke-width="9"/>
<line x1="1677.0" y1="578.4" x2="1677.0" y2="594.5" stroke="#000" stroke-width="9"/>
<line x1="1680.8" y1="578.9" x2="1680.8" y2="593.7" stroke="#000" stroke-width="9"/>
<line x1="1685.5" y1="569.8" x2="1685.5" y2="592.0" stroke="#000" stroke-width="9"/>
<line x1="1689.6" y1="570.5" x2="1689.6" y2="594.3" stroke="#000" stroke-width="9"/>
<line x1="1695.6" y1="573.8" x2="1695.6" y2="598.3" stroke="#000" stroke-width="9"/>
<line x1="1700.0" y1="579.3" x2="1700.0" y2="597.4" stroke="#000" stroke-width="9"/>
<line x1="1704.9" y1="572.4" x2="1704.9" y2="594.9" stroke="#000" stroke-width="9"/>
<line x1="1710.7" y1="572.7" x2="1710.7" y2="587.8" stroke="#000" stroke-width="9"/>
<line x1="1717.0" y1="565.0" x2="1717.0" y2="583.0" stroke="#000" stroke-width="9"/>
<line x1="1722.3" y1="565.8" x2="1722.3" y2="587.0" stroke="#000" stroke-width="9"/>
<line x1="1726.0" y1="556.7" x2="1726.0" y2="583.3" stroke="#000" stroke-width="9"/>
<line x1="1730.5" y1="554.8" x2="1730.5" y2="579.1" stroke="#000" stroke-width="9"/>
<line x1="1734.8" y1="567.8" x2="1734.8" y2="583.9" stroke="#000" stroke-width="9"/>
<line x1="1740.5" y1="559.9" x2="1740.5" y2="583.3" stroke="#000" stroke-width="9"/>
<line x1="1746.4" y1="568.6" x2="1746.4" y2="582.4" stroke="#000" stroke-width="9"/>
<line x1="1751.9" y1="554.7" x2="1751.9" y2="586.5" stroke="#000" stroke-width="9"/>
<line x1="1757.5" y1="556.1" x2="1757.5" y2="581.1" stroke="#000" stroke-width="9"/>
<line x1="1763.8" y1="554.7" x2="1763.8" y2="578.1" stroke="#000" stroke-width="9"/>
<line x1="1768.5" y1="552.7" x2="1768.5" y2="576.9" stroke="#000" stroke-width="9"/>
<line x1="1772.5" y1="551.2" x2="1772.5" y2="578.8" stroke="#000" stroke-width="9"/>
<line x1="1777.6" y1="553.8" x2="1777.6" y2="583.5" stroke="#000" stroke-width="9"/>
<line x1="1781.5" y1="558.6" x2="1781.5" y2="571.4" stroke="#000" stroke-width="9"/>
<line x1="1786.2" y1="556.6" x2="1786.2" y2="582.6" stroke="#000" stroke-width="9"/>
<line x1="1791.7" y1="556.4" x2="1791.7" y2="576.9" stroke="#000" stroke-width="9"/>
<line x1="1796.9" y1="561.5" x2="1796.9" y2="583.7" stroke="#000" stroke-width="9"/>
<line x1="1802.8" y1="554.9" x2="1802.8" y2="575.1" stroke="#000" stroke-width="9"/>
<line x1="1400.0" y1="771.7" x2="1400.0" y2="777.3" stroke="#000" stroke-width="9"/>
<line x1="1406.2" y1="771.3" x2="1406.2" y2="778.4" stroke="#000" stroke-width="9"/>
<line x1="1412.2" y1="772.2" x2="1412.2" y2="779.1" stroke="#000" stroke-width="9"/>
<line x1="1416.1" y1="772.0" x2="1416.1" y2="778.6" stroke="#000" stroke-width="9"/>
<line x1="1421.4" y1="773.5" x2="1421.4" y2="776.5" stroke="#000" stroke-width="9"/>
<line x1="1426.7" y1="771.5" x2="1426.7" y2="777.3" stroke="#000" stroke-width="9"/>
<line x1="1430.8" y1="773.6" x2="1430.8" y2="776.6" stroke="#000" stroke-width="9"/>
<line x1="1436.4" y1="770.5" x2="1436.4" y2="779.1" stroke="#000" stroke-width="9"/>
<line x1="1440.9" y1="771.3" x2="1440.9" y2="776.2" stroke="#000" stroke-width="9"/>
<line x1="1447.0" y1="772.2" x2="1447.0" y2="775.5" stroke="#000" stroke-width="9"/>
<line x1="1452.3" y1="772.3" x2="1452.3" y2="776.0" stroke="#000" stroke-width="9"/>
<line x1="1456.0" y1="770.6" x2="1456.0" y2="776.7" stroke="#000" stroke-width="9"/>
<line x1="1461.9" y1="771.3" x2="1461.9" y2="777.0" stroke="#000" stroke-width="9"/>
<line x1="1465.8" y1="769.8" x2="1465.8" y2="775.6" stroke="#000" stroke-width="9"/>
<line x1="1470.3" y1="768.5" x2="1470.3" y2="774.5" stroke="#000" stroke-width="9"/>
<line x1="1474.5" y1="765.6" x2="1474.5" y2="772.2" stroke="#000" stroke-width="9"/>
<line x1="1480.5" y1="764.1" x2="1480.5" y2="772.4" stroke="#000" stroke-width="9"/>
<line x1="1484.1" y1="763.4" x2="1484.1" y2="769.3" stroke="#000" stroke-width="9"/>
<line x1="1489.1" y1="763.5" x2="1489.1" y2="768.1" stroke="#000" stroke-width="9"/>
<line x1="1494.5" y1="760.4" x2="1494.5" y2="768.9" stroke="#000" stroke-width="9"/>
<line x1="1499.2" y1="759.8" x2="1499.2" y2="767.4" stroke="#000" stroke-width="9"/>
<line x1="1503.3" y1="756.7" x2="1503.3" y2="768.1" stroke="#000" stroke-width="9"/>
<line x1="1509.3" y1="754.3" x2="1509.3" y2="763.2" stroke="#000" stroke-width="9"/>
<line x1="1515.7" y1="757.0" x2="1515.7" y2="762.3" stroke="#000" stroke-width="9"/>
<line x1="1519.6" y1="754.3" x2="1519.6" y2="762.7" stroke="#000" stroke-width="9"/>
<line x1="1525.2" y1="753.5" x2="1525.2" y2="760.3" stroke="#000" stroke-width="9"/>
<line x1="1529.3" y1="753.5" x2="1529.3" y2="759.7" stroke="#000" stroke-width="9"/>
<line x1="1533.4" y1="751.6" x2="1533.4" y2="760.9" stroke="#000" stroke-width="9"/>
<line x1="1538.2" y1="754.3" x2="1538.2" y2="761.9" stroke="#000" stroke-width="9"/>
<line x1="1542.3" y1="753.8" x2="1542.3" y2="761.1" stroke="#000" stroke-width="9"/>
<line x1="1547.9" y1="749.6" x2="1547.9" y2="762.0" stroke="#000" stroke-width="9"/>
<line x1="1554.3" y1="749.1" x2="1554.3" y2="761.2" stroke="#000" stroke-width="9"/>
<line x1="1559.9" y1="752.7" x2="1559.9" y2="757.2" stroke="#000" stroke-width="9"/>
<line x1="1563.4" y1="747.1" x2="1563.4" y2="759.2" stroke="#000" stroke-width="9"/>
<line x1="1568.8" y1="748.7" x2="1568.8" y2="755.3" stroke="#000" stroke-width="9"/>
<line x1="1572.8" y1="744.9" x2="1572.8" y2="757.6" stroke="#000" stroke-width="9"/>
<line x1="1577.2" y1="746.6" x2="1577.2" y2="750.9" stroke="#000" stroke-width="9"/>
<line x1="1581.8" y1="739.4" x2="1581.8" y2="752.9" stroke="#000" stroke-width="9"/>
<line x1="1586.7" y1="742.2" x2="1586.7" y2="746.6" stroke="#000" stroke-width="9"/>
<line x1="1590.6" y1="736.3" x2="1590.6" y2="747.2" stroke="#000" stroke-width="9"/>
<line x1="1597.1" y1="732.9" x2="1597.1" y2="746.9" stroke="#000" stroke-width="9"/>
<line x1="1602.0" y1="731.8" x2="1602.0" y2="741.1" stroke="#000" stroke-width="9"/>
<line x1="1605.9" y1="732.2" x2="1605.9" y2="742.5" stroke="#000" stroke-width="9"/>
<line x1="1610.0" y1="732.9" x2="1610.0" y2="738.1" stroke="#000" stroke-width="9"/>
<line x1="1616.2" y1="727.9" x2="1616.2" y2="742.8" stroke="#000" stroke-width="9"/>
<line x1="1622.7" y1="727.9" x2="1622.7" y2="739.8" stroke="#000" stroke-width="9"/>
<line x1="1627.3" y1="723.8" x2="1627.3" y2="739.4" stroke="#000" stroke-width="9"/>
<line x1="1631.2" y1="728.4" x2="1631.2" y2="733.8" stroke="#000" stroke-width="9"/>
<line x1="1636.5" y1="724.0" x2="1636.5" y2="730.7" stroke="#000" stroke-width="9"/>
<line x1="1642.5" y1="718.7" x2="1642.5" y2="732.3" stroke="#000" stroke-width="9"/>
<line x1="1646.1" y1="716.5" x2="1646.1" y2="731.6" stroke="#000" stroke-width="9"/>
<line x1="1649.8" y1="719.5" x2="1649.8" y2="731.1" stroke="#000" stroke-width="9"/>
<line x1="1656.0" y1="716.0" x2="1656.0" y2="728.8" stroke="#000" stroke-width="9"/>
<line x1="1660.1" y1="716.4" x2="1660.1" y2="729.4" stroke="#000" stroke-width="9"/>
<line x1="1664.7" y1="716.0" x2="1664.7" y2="725.3" stroke="#000" stroke-width="9"/>
<line x1="1668.6" y1="714.0" x2="1668.6" y2="722.9" stroke="#000" stroke-width="9"/>
<line x1="1673.9" y1="709.2" x2="1673.9" y2="723.2" stroke="#000" stroke-width="9"/>
<line x1="1678.7" y1="712.1" x2="1678.7" y2="721.9" stroke="#000" stroke-width="9"/>
<line x1="1682.3" y1="708.1" x2="1682.3" y2="718.4" stroke="#000" stroke-width="9"/>
<line x1="1687.9" y1="705.0" x2="1687.9" y2="715.7" stroke="#000" stroke-width="9"/>
<line x1="1693.3" y1="703.9" x2="1693.3" y2="716.1" stroke="#000" stroke-width="9"/>
<line x1="1697.2" y1="701.6" x2="1697.2" y2="716.1" stroke="#000" stroke-width="9"/>
<line x1="1700.9" y1="706.0" x2="1700.9" y2="718.4" stroke="#000" stroke-width="9"/>
<line x1="1705.1" y1="704.7" x2="1705.1" y2="716.9" stroke="#000" stroke-width="9"/>
<line x1="1711.1" y1="702.5" x2="1711.1" y2="716.2" stroke="#000" stroke-width="9"/>
<line x1="1714.7" y1="706.0" x2="1714.7" y2="717.4" stroke="#000" stroke-width="9"/>
<line x1="1720.6" y1="705.4" x2="1720.6" y2="709.7" stroke="#000" stroke-width="9"/>
<line x1="1724.8" y1="698.0" x2="1724.8" y2="710.2" stroke="#000" stroke-width="9"/>
<line x1="1730.3" y1="697.0" x2="1730.3" y2="712.4" stroke="#000" stroke-width="9"/>
<line x1="1736.6" y1="700.9" x2="1736.6" y2="707.7" stroke="#000" stroke-width="9"/>
<line x1="1740.2" y1="696.6" x2="1740.2" y2="706.9" stroke="#000" stroke-width="9"/>
<line x1="1746.6" y1="696.3" x2="1746.6" y2="706.8" stroke="#000" stroke-width="9"/>
<line x1="1752.5" y1="700.2" x2="1752.5" y2="709.2" stroke="#000" stroke-width="9"/>
<line x1="1756.3" y1="695.6" x2="1756.3" y2="712.3" stroke="#000" stroke-width="9"/>
<line x1="1762.6" y1="702.1" x2="1762.6" y2="712.5" stroke="#000" stroke-width="9"/>
<line x1="1767.7" y1="696.1" x2="1767.7" y2="710.2" stroke="#000" stroke-width="9"/>
<line x1="1773.1" y1="698.0" x2="1773.1" y2="712.7" stroke="#000" stroke-width="9"/>
<line x1="1776.8" y1="702.0" x2="1776.8" y2="710.6" stroke="#000" stroke-width="9"/>
<line x1="1781.2" y1="699.0" x2="1781.2" y2="706.1" stroke="#000" stroke-width="9"/>
<line x1="1786.9" y1="701.3" x2="1786.9" y2="712.0" stroke="#000" stroke-width="9"/>
<line x1="1792.9" y1="697.0" x2="1792.9" y2="705.6" stroke="#000" stroke-width="9"/>
<line x1="1798.3" y1="698.2" x2="1798.3" y2="707.3" stroke="#000" stroke-width="9"/>
<line x1="1802.1" y1="691.5" x2="1802.1" y2="707.7" stroke="#000" stroke-width="9"/>
<line x1="681.5" y1="656" x2="681.5" y2="670" stroke="#000" stroke-width="11"/>
<path d="M1460,524 L1483,500 L1500,494 L1507,478 L1528,479 L1537,471 L1561,450 L1583,446 L1600,425 L1618,404 L1625,400 L1635,380 L1643,375 L1652,370 L1666,368 L1673,368 L1688,340 L1694,334 L1705,325 L1725,295 L1745,274 L1752,282 L1765,281 L1781,244 L1800,238 L1800,440 L1780,430 L1770,415 L1760,425 L1742,447 L1722,430 L1709,432 L1694.5,458 L1684,452 L1673,452 L1660,476 L1649,467 L1637,465 L1624,467 L1615,473 L1607,481 L1592,484 L1577,497 L1564,496 L1553,509 L1544,524 L1524,523 L1514,521 L1508,533 L1495,547 L1480,559 L1466,560 L1460,556 Z" fill="#000" stroke="#000" stroke-width="8" stroke-linejoin="round"/>
<line x1="1551.8" y1="423.5" x2="1551.8" y2="466.1" stroke="#000" stroke-width="11"/>
<line x1="1574" y1="429.5" x2="1574" y2="455.6" stroke="#000" stroke-width="11"/>
<line x1="1596" y1="408.5" x2="1596" y2="437.9" stroke="#000" stroke-width="13"/>
<line x1="1608.3" y1="392.5" x2="1608.3" y2="423.3" stroke="#000" stroke-width="11"/>
<line x1="1632.5" y1="383.5" x2="1632.5" y2="393.0" stroke="#000" stroke-width="11"/>
<line x1="1659.8" y1="311.0" x2="1659.8" y2="376.9" stroke="#000" stroke-width="12"/>
<line x1="1684" y1="320.0" x2="1684" y2="355.5" stroke="#000" stroke-width="12"/>
<line x1="1699.6" y1="312.5" x2="1699.6" y2="337.4" stroke="#000" stroke-width="12"/>
<line x1="1716.7" y1="284.0" x2="1716.7" y2="315.4" stroke="#000" stroke-width="12"/>
<line x1="1736.5" y1="244.0" x2="1736.5" y2="290.9" stroke="#000" stroke-width="12"/>
<line x1="1758.3" y1="250.0" x2="1758.3" y2="289.5" stroke="#000" stroke-width="12"/>
<line x1="1773.3" y1="209.0" x2="1773.3" y2="269.8" stroke="#000" stroke-width="12"/>
<line x1="1789.1" y1="159.5" x2="1789.1" y2="249.4" stroke="#000" stroke-width="12"/>
<line x1="1500" y1="515" x2="1500" y2="525.5" stroke="#000" stroke-width="11"/>
<line x1="1515" y1="510" x2="1515" y2="520.5" stroke="#000" stroke-width="11"/>
<line x1="1540" y1="511" x2="1540" y2="521.5" stroke="#000" stroke-width="11"/>
<line x1="1556" y1="495" x2="1556" y2="505.5" stroke="#000" stroke-width="11"/>
<line x1="1580" y1="483" x2="1580" y2="493.5" stroke="#000" stroke-width="11"/>
<line x1="1607" y1="467" x2="1607" y2="477.5" stroke="#000" stroke-width="11"/>
<line x1="1625" y1="453" x2="1625" y2="463.5" stroke="#000" stroke-width="11"/>
<line x1="1650" y1="453" x2="1650" y2="463.5" stroke="#000" stroke-width="11"/>
<line x1="1660" y1="462" x2="1660" y2="472.5" stroke="#000" stroke-width="11"/>
<line x1="1694" y1="444" x2="1694" y2="454.5" stroke="#000" stroke-width="11"/>
<line x1="1742" y1="433" x2="1742" y2="443.5" stroke="#000" stroke-width="11"/>
<line x1="1725" y1="418" x2="1725" y2="428.5" stroke="#000" stroke-width="11"/>
<line x1="1782" y1="416" x2="1782" y2="426.5" stroke="#000" stroke-width="11"/>
<line x1="1492" y1="501.6" x2="1492" y2="504.8" stroke="#000" stroke-width="11"/>
<line x1="1500" y1="493.7" x2="1500" y2="502.0" stroke="#000" stroke-width="11"/>
<line x1="1508" y1="476.7" x2="1508" y2="486.0" stroke="#000" stroke-width="11"/>
<line x1="1516" y1="477.1" x2="1516" y2="486.4" stroke="#000" stroke-width="11"/>
<line x1="1524" y1="483.5" x2="1524" y2="486.8" stroke="#000" stroke-width="11"/>
<line x1="1532" y1="478.0" x2="1532" y2="483.4" stroke="#000" stroke-width="11"/>
<line x1="1540" y1="471.5" x2="1540" y2="476.4" stroke="#000" stroke-width="11"/>
<line x1="1548" y1="460.8" x2="1548" y2="469.4" stroke="#000" stroke-width="11"/>
<line x1="1556" y1="458.7" x2="1556" y2="462.4" stroke="#000" stroke-width="11"/>
<line x1="1564" y1="450.1" x2="1564" y2="457.5" stroke="#000" stroke-width="11"/>
<line x1="1572" y1="445.7" x2="1572" y2="456.0" stroke="#000" stroke-width="11"/>
<line x1="1580" y1="445.9" x2="1580" y2="454.5" stroke="#000" stroke-width="11"/>
<line x1="1588" y1="445.3" x2="1588" y2="447.8" stroke="#000" stroke-width="11"/>
<line x1="1596" y1="434.8" x2="1596" y2="437.9" stroke="#000" stroke-width="11"/>
<line x1="1604" y1="424.9" x2="1604" y2="428.3" stroke="#000" stroke-width="11"/>
<line x1="1612" y1="411.0" x2="1612" y2="419.0" stroke="#000" stroke-width="11"/>
<line x1="1620" y1="403.6" x2="1620" y2="410.9" stroke="#000" stroke-width="11"/>
<line x1="1628" y1="395.3" x2="1628" y2="402.0" stroke="#000" stroke-width="11"/>
<line x1="1636" y1="381.2" x2="1636" y2="387.4" stroke="#000" stroke-width="11"/>
<line x1="1644" y1="376.7" x2="1644" y2="382.4" stroke="#000" stroke-width="11"/>
<line x1="1652" y1="370.6" x2="1652" y2="378.0" stroke="#000" stroke-width="11"/>
<line x1="1660" y1="369.2" x2="1660" y2="376.9" stroke="#000" stroke-width="11"/>
<line x1="1668" y1="366.2" x2="1668" y2="376.0" stroke="#000" stroke-width="11"/>
<line x1="1676" y1="362.0" x2="1676" y2="370.4" stroke="#000" stroke-width="11"/>
<line x1="1684" y1="346.6" x2="1684" y2="355.5" stroke="#000" stroke-width="11"/>
<line x1="1692" y1="334.2" x2="1692" y2="344.0" stroke="#000" stroke-width="11"/>
<line x1="1700" y1="327.9" x2="1700" y2="337.1" stroke="#000" stroke-width="11"/>
<line x1="1708" y1="320.3" x2="1708" y2="328.5" stroke="#000" stroke-width="11"/>
<line x1="1716" y1="313.8" x2="1716" y2="316.5" stroke="#000" stroke-width="11"/>
<line x1="1724" y1="296.6" x2="1724" y2="304.5" stroke="#000" stroke-width="11"/>
<line x1="1732" y1="286.4" x2="1732" y2="295.6" stroke="#000" stroke-width="11"/>
<line x1="1740" y1="281.3" x2="1740" y2="287.2" stroke="#000" stroke-width="11"/>
<line x1="1748" y1="275.9" x2="1748" y2="285.4" stroke="#000" stroke-width="11"/>
<line x1="1756" y1="285.8" x2="1756" y2="289.7" stroke="#000" stroke-width="11"/>
<line x1="1764" y1="279.0" x2="1764" y2="289.1" stroke="#000" stroke-width="11"/>
<line x1="1772" y1="266.8" x2="1772" y2="272.8" stroke="#000" stroke-width="11"/>
<line x1="1780" y1="246.2" x2="1780" y2="254.3" stroke="#000" stroke-width="11"/>
<line x1="1788" y1="245.3" x2="1788" y2="249.8" stroke="#000" stroke-width="11"/>
<line x1="1796" y1="242.4" x2="1796" y2="247.3" stroke="#000" stroke-width="11"/>
<path d="M255.5,855.5 L258.5,855.5 L261.5,855.5 L264.5,855.5 L267.5,855.5 L270.5,855.5 L273.5,855.5 L276.5,855.5 L279.5,855.5 L282.5,855.5 L285.5,855.5 L288.5,855.5 L291.5,855.5 L294.5,855.5 L297.5,855.5 L300.5,855.5 L303.5,855.5 L306.5,855.5 L309.5,855.5 L312.5,855.5 L315.5,855.5 L318.5,855.5 L321.5,855.5 L324.5,855.5 L327.5,855.5 L330.5,855.5 L333.5,855.5 L336.5,855.5 L339.5,855.5 L342.5,855.5 L345.5,855.5 L348.5,855.5 L351.5,855.4 L354.5,855.4 L357.5,855.4 L360.5,855.4 L363.5,855.4 L366.5,855.4 L369.5,855.4 L372.5,855.4 L375.5,855.4 L378.5,855.4 L381.5,855.4 L384.5,855.4 L387.5,855.4 L390.5,855.4 L393.5,855.4 L396.5,855.4 L399.5,855.4 L402.5,855.4 L405.5,855.4 L408.5,855.4 L411.5,855.4 L414.5,855.4 L417.5,855.4 L420.5,855.4 L423.5,855.4 L426.5,855.4 L429.5,855.4 L432.5,855.4 L435.5,855.4 L438.5,855.4 L441.5,855.4 L444.5,855.4 L447.5,855.4 L450.5,855.4 L453.5,855.4 L456.5,855.4 L459.5,855.4 L462.5,855.4 L465.5,855.4 L468.5,855.4 L471.5,855.4 L474.5,855.5 L477.5,855.5 L480.5,855.5 L483.5,855.5 L486.5,855.5 L489.5,855.5 L492.5,855.5 L495.5,855.5 L498.5,855.5 L501.5,855.5 L504.5,855.5 L507.5,855.5 L510.5,855.5 L513.5,855.5 L516.5,855.5 L519.5,855.5 L522.5,855.5 L525.5,855.6 L528.5,855.6 L531.5,855.6 L534.5,855.6 L537.5,855.6 L540.5,855.6 L543.5,855.6 L546.5,855.6 L549.5,855.6 L552.5,855.6 L555.5,855.6 L558.5,855.6 L561.5,855.6 L564.5,855.6 L567.5,855.7 L570.5,855.7 L573.5,855.7 L576.5,855.7 L579.5,855.7 L582.5,855.7 L585.5,855.7 L588.5,855.7 L591.5,855.7 L594.5,855.7 L597.5,855.7 L600.5,855.8 L603.5,855.8 L606.5,855.8 L609.5,855.8 L612.5,855.8 L615.5,855.8 L618.5,855.8 L621.5,855.9 L624.5,855.9 L627.5,855.9 L630.5,855.9 L633.5,855.9 L636.5,855.9 L639.5,856.0 L642.5,856.0 L645.5,856.0 L648.5,856.0 L651.5,856.0 L654.5,856.1 L657.5,856.1 L660.5,856.1 L663.5,856.1 L666.5,856.2 L669.5,856.2 L672.5,856.2 L675.5,856.2 L678.5,856.3 L681.5,856.3 L684.5,856.3 L687.5,856.4 L690.5,856.4 L693.5,856.4 L696.5,856.5 L699.5,856.5 L702.5,856.5 L705.5,856.6 L708.5,856.6 L711.5,856.6 L714.5,856.7 L717.5,856.7 L720.5,856.8 L723.5,856.8 L726.5,856.8 L729.5,856.9 L732.5,856.9 L735.5,857.0 L738.5,857.0 L741.5,857.1 L744.5,857.1 L747.5,857.1 L750.5,857.2 L753.5,857.2 L756.5,857.3 L759.5,857.3 L762.5,857.4 L765.5,857.4 L768.5,857.5 L771.5,857.5 L774.5,857.6 L777.5,857.6 L780.5,857.7 L783.5,857.7 L786.5,857.8 L789.5,857.8 L792.5,857.9 L795.5,857.9 L798.5,858.0 L801.5,858.0 L804.5,858.1 L807.5,858.1 L810.5,858.2 L813.5,858.2 L816.5,858.3 L819.5,858.3 L822.5,858.4 L825.5,858.4 L828.5,858.5 L831.5,858.6 L834.5,858.6 L837.5,858.7 L840.5,858.7 L843.5,858.8 L846.5,858.8 L849.5,858.9 L852.5,858.9 L855.5,859.0 L858.5,859.0 L861.5,859.1 L864.5,859.2 L867.5,859.2 L870.5,859.3 L873.5,859.3 L876.5,859.4 L879.5,859.4 L882.5,859.5 L885.5,859.5 L888.5,859.6 L891.5,859.6 L894.5,859.7 L897.5,859.8 L900.5,859.8 L903.5,859.9 L906.5,859.9 L909.5,860.0 L912.5,860.0 L915.5,860.1 L918.5,860.1 L921.5,860.2 L924.5,860.2 L927.5,860.3 L930.5,860.4 L933.5,860.4 L936.5,860.5 L939.5,860.5 L942.5,860.6 L945.5,860.6 L948.5,860.7 L951.5,860.7 L954.5,860.8 L957.5,860.8 L960.5,860.9 L963.5,860.9 L966.5,861.0 L969.5,861.0 L972.5,861.1 L975.5,861.1 L978.5,861.2 L981.5,861.2 L984.5,861.3 L987.5,861.3 L990.5,861.4 L993.5,861.4 L996.5,861.4 L999.5,861.5 L1002.5,861.5 L1005.5,861.6 L1008.5,861.6 L1011.5,861.7 L1014.5,861.7 L1017.5,861.7 L1020.5,861.8 L1023.5,861.8 L1026.5,861.8 L1029.5,861.8 L1032.5,861.9 L1035.5,861.9 L1038.5,861.9 L1041.5,861.9 L1044.5,862.0 L1047.5,862.0 L1050.5,862.0 L1053.5,862.0 L1056.5,862.0 L1059.5,862.1 L1062.5,862.1 L1065.5,862.1 L1068.5,862.1 L1071.5,862.2 L1074.5,862.2 L1077.5,862.2 L1080.5,862.3 L1083.5,862.3 L1086.5,862.3 L1089.5,862.4 L1092.5,862.4 L1095.5,862.4 L1098.5,862.5 L1101.5,862.5 L1104.5,862.6 L1107.5,862.6 L1110.5,862.7 L1113.5,862.8 L1116.5,862.8 L1119.5,862.9 L1122.5,863.0 L1125.5,863.1 L1128.5,863.2 L1131.5,863.2 L1134.5,863.3 L1137.5,863.4 L1140.5,863.5 L1143.5,863.6 L1146.5,863.7 L1149.5,863.8 L1152.5,863.9 L1155.5,863.9 L1158.5,864.0 L1161.5,864.1 L1164.5,864.2 L1167.5,864.2 L1170.5,864.3 L1173.5,864.3 L1176.5,864.4 L1179.5,864.4 L1182.5,864.5 L1185.5,864.5 L1188.5,864.5 L1191.5,864.5 L1194.5,864.5 L1197.5,864.5 L1200.5,864.5 L1203.5,864.5 L1206.5,864.4 L1209.5,864.4 L1212.5,864.3 L1215.5,864.3 L1218.5,864.2 L1221.5,864.2 L1224.5,864.1 L1227.5,864.1 L1230.5,864.0 L1233.5,863.9 L1236.5,863.8 L1239.5,863.7 L1242.5,863.6 L1245.5,863.5 L1248.5,863.4 L1251.5,863.3 L1254.5,863.2 L1257.5,863.1 L1260.5,863.0 L1263.5,862.9 L1266.5,862.7 L1269.5,862.6 L1272.5,862.5 L1275.5,862.4 L1278.5,862.2 L1281.5,862.1 L1284.5,861.9 L1287.5,861.8 L1290.5,861.6 L1293.5,861.4 L1296.5,861.2 L1299.5,861.1 L1302.5,860.9 L1305.5,860.6 L1308.5,860.4 L1311.5,860.2 L1314.5,860.0 L1317.5,859.8 L1320.5,859.5 L1323.5,859.3 L1326.5,859.1 L1329.5,858.9 L1332.5,858.6 L1335.5,858.4 L1338.5,858.2 L1341.5,857.9 L1344.5,857.7 L1347.5,857.5 L1350.5,857.3 L1353.5,857.1 L1356.5,856.9 L1359.5,856.7 L1362.5,856.5 L1365.5,856.3 L1368.5,856.2 L1371.5,856.0 L1374.5,855.9 L1377.5,855.8 L1380.5,855.7 L1383.5,855.6 L1386.5,855.5 L1389.5,855.5 L1392.5,855.4 L1395.5,855.4 L1398.5,855.4 L1401.5,855.4 L1404.5,855.4 L1407.5,855.4 L1410.5,855.4 L1413.5,855.5 L1416.5,855.5 L1419.5,855.6 L1422.5,855.7 L1425.5,855.8 L1428.5,856.0 L1431.5,856.2 L1434.5,856.4 L1437.5,856.6 L1440.5,856.7 L1443.5,856.9 L1446.5,857.0 L1449.5,857.1 L1452.5,857.2 L1455.5,857.1 L1458.5,857.1 L1461.5,856.9 L1464.5,856.7 L1467.5,856.4 L1470.5,856.1 L1473.5,855.7 L1476.5,855.3 L1479.5,854.8 L1482.5,854.4 L1485.5,853.9 L1488.5,853.4 L1491.5,852.9 L1494.5,852.5 L1497.5,852.0 L1500.5,851.6 L1503.5,851.3 L1506.5,850.9 L1509.5,850.7 L1512.5,850.4 L1515.5,850.1 L1518.5,849.9 L1521.5,849.7 L1524.5,849.5 L1527.5,849.3 L1530.5,849.1 L1533.5,848.9 L1536.5,848.7 L1539.5,848.5 L1542.5,848.4 L1545.5,848.2 L1548.5,848.0 L1551.5,847.9 L1554.5,847.7 L1557.5,847.6 L1560.5,847.5 L1563.5,847.5 L1566.5,847.4 L1569.5,847.3 L1572.5,847.2 L1575.5,847.1 L1578.5,847.0 L1581.5,846.9 L1584.5,846.7 L1587.5,846.4 L1590.5,846.2 L1593.5,845.8 L1596.5,845.4 L1599.5,845.0 L1602.5,844.6 L1605.5,844.1 L1608.5,843.6 L1611.5,843.1 L1614.5,842.6 L1617.5,842.0 L1620.5,841.4 L1623.5,840.8 L1626.5,840.2 L1629.5,839.6 L1632.5,839.0 L1635.5,838.3 L1638.5,837.7 L1641.5,837.0 L1644.5,836.3 L1647.5,835.6 L1650.5,834.8 L1653.5,834.1 L1656.5,833.3 L1659.5,832.5 L1662.5,831.8 L1665.5,831.0 L1668.5,830.2 L1671.5,829.4 L1674.5,828.6 L1677.5,827.9 L1680.5,827.1 L1683.5,826.4 L1686.5,825.5 L1689.5,824.7 L1692.5,823.8 L1695.5,822.9 L1698.5,822.0 L1701.5,821.1 L1704.5,820.3 L1707.5,819.5 L1710.5,818.8 L1713.5,818.2 L1716.5,817.7 L1719.5,817.3 L1722.5,817.0 L1725.5,817.0 L1728.5,817.1 L1731.5,817.3 L1734.5,817.7 L1737.5,818.2 L1740.5,818.8 L1743.5,819.5 L1746.5,820.1 L1749.5,820.8 L1752.5,821.4 L1755.5,822.0 L1758.5,822.4 L1761.5,822.8 L1764.5,823.0 L1767.5,823.1 L1770.5,823.1 L1773.5,822.9 L1776.5,822.7 L1779.5,822.5 L1782.5,822.2 L1785.5,821.9 L1788.5,821.6 L1791.5,821.3 L1794.5,821.1 L1797.5,820.9 L1800.5,820.9 L1803.5,821.0" stroke="#ff8000" stroke-width="13" stroke-dasharray="16 28.4"/>
<path d="M255.5,789.0 L258.5,789.0 L261.5,789.0 L264.5,789.0 L267.5,789.0 L270.5,789.0 L273.5,789.0 L276.5,789.0 L279.5,789.0 L282.5,789.0 L285.5,789.0 L288.5,789.0 L291.5,789.0 L294.5,789.0 L297.5,789.0 L300.5,789.0 L303.5,789.0 L306.5,789.0 L309.5,789.0 L312.5,789.0 L315.5,789.0 L318.5,789.1 L321.5,789.1 L324.5,789.1 L327.5,789.1 L330.5,789.1 L333.5,789.1 L336.5,789.1 L339.5,789.1 L342.5,789.1 L345.5,789.1 L348.5,789.1 L351.5,789.1 L354.5,789.1 L357.5,789.1 L360.5,789.1 L363.5,789.1 L366.5,789.1 L369.5,789.1 L372.5,789.1 L375.5,789.1 L378.5,789.1 L381.5,789.1 L384.5,789.1 L387.5,789.1 L390.5,789.2 L393.5,789.2 L396.5,789.2 L399.5,789.2 L402.5,789.2 L405.5,789.2 L408.5,789.2 L411.5,789.2 L414.5,789.2 L417.5,789.2 L420.5,789.2 L423.5,789.2 L426.5,789.2 L429.5,789.2 L432.5,789.2 L435.5,789.2 L438.5,789.2 L441.5,789.2 L444.5,789.1 L447.5,789.1 L450.5,789.1 L453.5,789.1 L456.5,789.1 L459.5,789.1 L462.5,789.1 L465.5,789.1 L468.5,789.1 L471.5,789.1 L474.5,789.1 L477.5,789.1 L480.5,789.1 L483.5,789.1 L486.5,789.1 L489.5,789.0 L492.5,789.0 L495.5,789.0 L498.5,789.0 L501.5,789.0 L504.5,789.0 L507.5,789.0 L510.5,788.9 L513.5,788.9 L516.5,788.9 L519.5,788.9 L522.5,788.9 L525.5,788.8 L528.5,788.8 L531.5,788.8 L534.5,788.7 L537.5,788.7 L540.5,788.7 L543.5,788.7 L546.5,788.6 L549.5,788.6 L552.5,788.6 L555.5,788.5 L558.5,788.5 L561.5,788.4 L564.5,788.4 L567.5,788.4 L570.5,788.3 L573.5,788.3 L576.5,788.3 L579.5,788.2 L582.5,788.2 L585.5,788.1 L588.5,788.1 L591.5,788.1 L594.5,788.0 L597.5,788.0 L600.5,787.9 L603.5,787.9 L606.5,787.9 L609.5,787.8 L612.5,787.8 L615.5,787.7 L618.5,787.7 L621.5,787.7 L624.5,787.6 L627.5,787.6 L630.5,787.5 L633.5,787.5 L636.5,787.5 L639.5,787.4 L642.5,787.4 L645.5,787.4 L648.5,787.3 L651.5,787.3 L654.5,787.3 L657.5,787.3 L660.5,787.2 L663.5,787.2 L666.5,787.2 L669.5,787.2 L672.5,787.1 L675.5,787.1 L678.5,787.1 L681.5,787.1 L684.5,787.1 L687.5,787.0 L690.5,787.0 L693.5,787.0 L696.5,787.0 L699.5,787.0 L702.5,787.0 L705.5,787.0 L708.5,787.0 L711.5,787.0 L714.5,787.0 L717.5,787.0 L720.5,787.0 L723.5,787.0 L726.5,787.0 L729.5,787.0 L732.5,787.0 L735.5,787.0 L738.5,787.0 L741.5,787.0 L744.5,787.0 L747.5,787.0 L750.5,787.0 L753.5,787.0 L756.5,787.0 L759.5,787.0 L762.5,787.0 L765.5,787.0 L768.5,787.0 L771.5,787.0 L774.5,787.0 L777.5,787.0 L780.5,787.0 L783.5,787.0 L786.5,787.0 L789.5,787.1 L792.5,787.1 L795.5,787.1 L798.5,787.1 L801.5,787.1 L804.5,787.1 L807.5,787.1 L810.5,787.1 L813.5,787.1 L816.5,787.1 L819.5,787.2 L822.5,787.2 L825.5,787.2 L828.5,787.2 L831.5,787.2 L834.5,787.2 L837.5,787.2 L840.5,787.2 L843.5,787.3 L846.5,787.3 L849.5,787.3 L852.5,787.3 L855.5,787.3 L858.5,787.3 L861.5,787.3 L864.5,787.4 L867.5,787.4 L870.5,787.4 L873.5,787.4 L876.5,787.4 L879.5,787.4 L882.5,787.4 L885.5,787.5 L888.5,787.5 L891.5,787.5 L894.5,787.5 L897.5,787.5 L900.5,787.5 L903.5,787.5 L906.5,787.6 L909.5,787.6 L912.5,787.6 L915.5,787.6 L918.5,787.6 L921.5,787.6 L924.5,787.7 L927.5,787.7 L930.5,787.7 L933.5,787.7 L936.5,787.7 L939.5,787.7 L942.5,787.7 L945.5,787.8 L948.5,787.8 L951.5,787.8 L954.5,787.8 L957.5,787.8 L960.5,787.8 L963.5,787.8 L966.5,787.9 L969.5,787.9 L972.5,787.9 L975.5,787.9 L978.5,787.9 L981.5,787.9 L984.5,787.9 L987.5,788.0 L990.5,788.0 L993.5,788.0 L996.5,788.0 L999.5,788.0 L1002.5,788.0 L1005.5,788.0 L1008.5,788.1 L1011.5,788.1 L1014.5,788.1 L1017.5,788.2 L1020.5,788.2 L1023.5,788.2 L1026.5,788.3 L1029.5,788.3 L1032.5,788.4 L1035.5,788.4 L1038.5,788.5 L1041.5,788.5 L1044.5,788.5 L1047.5,788.6 L1050.5,788.6 L1053.5,788.7 L1056.5,788.7 L1059.5,788.7 L1062.5,788.8 L1065.5,788.8 L1068.5,788.8 L1071.5,788.8 L1074.5,788.8 L1077.5,788.8 L1080.5,788.8 L1083.5,788.8 L1086.5,788.7 L1089.5,788.7 L1092.5,788.7 L1095.5,788.6 L1098.5,788.5 L1101.5,788.5 L1104.5,788.4 L1107.5,788.3 L1110.5,788.2 L1113.5,788.0 L1116.5,787.9 L1119.5,787.8 L1122.5,787.6 L1125.5,787.5 L1128.5,787.3 L1131.5,787.2 L1134.5,787.0 L1137.5,786.8 L1140.5,786.6 L1143.5,786.4 L1146.5,786.3 L1149.5,786.1 L1152.5,785.9 L1155.5,785.7 L1158.5,785.5 L1161.5,785.3 L1164.5,785.0 L1167.5,784.8 L1170.5,784.6 L1173.5,784.4 L1176.5,784.2 L1179.5,784.0 L1182.5,783.8 L1185.5,783.6 L1188.5,783.4 L1191.5,783.2 L1194.5,783.0 L1197.5,782.8 L1200.5,782.7 L1203.5,782.5 L1206.5,782.3 L1209.5,782.1 L1212.5,781.9 L1215.5,781.7 L1218.5,781.5 L1221.5,781.3 L1224.5,781.1 L1227.5,780.9 L1230.5,780.6 L1233.5,780.4 L1236.5,780.2 L1239.5,780.0 L1242.5,779.8 L1245.5,779.6 L1248.5,779.4 L1251.5,779.2 L1254.5,779.0 L1257.5,778.8 L1260.5,778.6 L1263.5,778.3 L1266.5,778.1 L1269.5,777.9 L1272.5,777.7 L1275.5,777.5 L1278.5,777.3 L1281.5,777.1 L1284.5,776.9 L1287.5,776.7 L1290.5,776.5 L1293.5,776.3 L1296.5,776.1 L1299.5,775.9 L1302.5,775.7 L1305.5,775.5 L1308.5,775.3 L1311.5,775.1 L1314.5,774.9 L1317.5,774.7 L1320.5,774.5 L1323.5,774.3 L1326.5,774.1 L1329.5,774.0 L1332.5,773.8 L1335.5,773.6 L1338.5,773.4 L1341.5,773.2 L1344.5,773.0 L1347.5,772.7 L1350.5,772.5 L1353.5,772.3 L1356.5,772.1 L1359.5,771.9 L1362.5,771.7 L1365.5,771.5 L1368.5,771.3 L1371.5,771.0 L1374.5,770.8 L1377.5,770.6 L1380.5,770.3 L1383.5,770.1 L1386.5,769.8 L1389.5,769.6 L1392.5,769.3 L1395.5,769.0 L1398.5,768.7 L1401.5,768.4 L1404.5,768.2 L1407.5,767.9 L1410.5,767.6 L1413.5,767.3 L1416.5,766.9 L1419.5,766.6 L1422.5,766.3 L1425.5,766.0 L1428.5,765.6 L1431.5,765.3 L1434.5,764.9 L1437.5,764.6 L1440.5,764.2 L1443.5,763.9 L1446.5,763.5 L1449.5,763.2 L1452.5,762.8 L1455.5,762.5 L1458.5,762.2 L1461.5,761.8 L1464.5,761.6 L1467.5,761.3 L1470.5,761.1 L1473.5,760.9 L1476.5,760.7 L1479.5,760.5 L1482.5,760.3 L1485.5,760.0 L1488.5,759.8 L1491.5,759.5 L1494.5,759.1 L1497.5,758.7 L1500.5,758.3 L1503.5,757.7 L1506.5,757.1 L1509.5,756.4 L1512.5,755.7 L1515.5,754.9 L1518.5,754.0 L1521.5,753.2 L1524.5,752.3 L1527.5,751.5 L1530.5,750.6 L1533.5,749.8 L1536.5,749.0 L1539.5,748.2 L1542.5,747.5 L1545.5,746.9 L1548.5,746.3 L1551.5,745.8 L1554.5,745.4 L1557.5,744.9 L1560.5,744.5 L1563.5,744.1 L1566.5,743.8 L1569.5,743.4 L1572.5,743.0 L1575.5,742.7 L1578.5,742.3 L1581.5,741.9 L1584.5,741.5 L1587.5,741.1 L1590.5,740.6 L1593.5,740.1 L1596.5,739.5 L1599.5,739.0 L1602.5,738.4 L1605.5,737.8 L1608.5,737.3" stroke="#ff8000" stroke-width="13" stroke-dasharray="16 28.4"/>
<path d="M255.5,729.0 L258.5,729.0 L261.5,729.0 L264.5,729.0 L267.5,729.0 L270.5,729.0 L273.5,729.0 L276.5,729.0 L279.5,729.0 L282.5,729.0 L285.5,729.0 L288.5,729.0 L291.5,729.0 L294.5,729.0 L297.5,729.0 L300.5,729.0 L303.5,729.0 L306.5,729.0 L309.5,729.0 L312.5,729.0 L315.5,729.0 L318.5,729.0 L321.5,729.0 L324.5,729.0 L327.5,729.0 L330.5,729.0 L333.5,729.0 L336.5,729.0 L339.5,729.0 L342.5,729.0 L345.5,729.0 L348.5,729.0 L351.5,729.1 L354.5,729.1 L357.5,729.1 L360.5,729.1 L363.5,729.1 L366.5,729.1 L369.5,729.1 L372.5,729.1 L375.5,729.1 L378.5,729.1 L381.5,729.1 L384.5,729.1 L387.5,729.1 L390.5,729.1 L393.5,729.1 L396.5,729.1 L399.5,729.1 L402.5,729.1 L405.5,729.1 L408.5,729.1 L411.5,729.1 L414.5,729.1 L417.5,729.1 L420.5,729.1 L423.5,729.1 L426.5,729.1 L429.5,729.1 L432.5,729.1 L435.5,729.1 L438.5,729.1 L441.5,729.1 L444.5,729.1 L447.5,729.1 L450.5,729.1 L453.5,729.1 L456.5,729.1 L459.5,729.1 L462.5,729.1 L465.5,729.1 L468.5,729.1 L471.5,729.1 L474.5,729.0 L477.5,729.0 L480.5,729.0 L483.5,729.0 L486.5,729.0 L489.5,729.0 L492.5,729.0 L495.5,729.0 L498.5,729.0 L501.5,729.0 L504.5,729.0 L507.5,729.0 L510.5,729.0 L513.5,729.0 L516.5,729.0 L519.5,728.9 L522.5,728.9 L525.5,728.9 L528.5,728.9 L531.5,728.9 L534.5,728.9 L537.5,728.9 L540.5,728.9 L543.5,728.8 L546.5,728.8 L549.5,728.8 L552.5,728.8 L555.5,728.8 L558.5,728.8 L561.5,728.7 L564.5,728.7 L567.5,728.7 L570.5,728.7 L573.5,728.7 L576.5,728.6 L579.5,728.6 L582.5,728.6 L585.5,728.6 L588.5,728.6 L591.5,728.6 L594.5,728.5 L597.5,728.5 L600.5,728.5 L603.5,728.5 L606.5,728.5 L609.5,728.4 L612.5,728.4 L615.5,728.4 L618.5,728.4 L621.5,728.4 L624.5,728.3 L627.5,728.3 L630.5,728.3 L633.5,728.3 L636.5,728.3 L639.5,728.3 L642.5,728.2 L645.5,728.2 L648.5,728.2 L651.5,728.2 L654.5,728.2 L657.5,728.2 L660.5,728.1 L663.5,728.1 L666.5,728.1 L669.5,728.1 L672.5,728.1 L675.5,728.1 L678.5,728.1 L681.5,728.1 L684.5,728.0 L687.5,728.0 L690.5,728.0 L693.5,728.0 L696.5,728.0 L699.5,728.0 L702.5,728.0 L705.5,728.0 L708.5,728.0 L711.5,728.0 L714.5,728.0 L717.5,728.0 L720.5,728.0 L723.5,728.0 L726.5,727.9 L729.5,727.9 L732.5,727.9 L735.5,727.9 L738.5,727.9 L741.5,727.9 L744.5,727.9 L747.5,727.9 L750.5,727.9 L753.5,727.9 L756.5,727.9 L759.5,727.9 L762.5,727.9 L765.5,727.9 L768.5,727.9 L771.5,727.9 L774.5,727.9 L777.5,727.9 L780.5,727.9 L783.5,727.9 L786.5,727.9 L789.5,727.9 L792.5,727.9 L795.5,727.9 L798.5,727.9 L801.5,727.9 L804.5,727.9 L807.5,727.9 L810.5,727.9 L813.5,727.9 L816.5,727.9 L819.5,727.9 L822.5,727.9 L825.5,727.9 L828.5,727.9 L831.5,727.9 L834.5,727.9 L837.5,727.9 L840.5,727.9 L843.5,727.9 L846.5,727.9 L849.5,727.9 L852.5,727.9 L855.5,727.9 L858.5,727.9 L861.5,727.9 L864.5,727.9 L867.5,727.9 L870.5,727.9 L873.5,727.9 L876.5,727.9 L879.5,727.9 L882.5,727.9 L885.5,727.9 L888.5,727.9 L891.5,727.9 L894.5,727.9 L897.5,727.9 L900.5,727.9 L903.5,727.9 L906.5,727.9 L909.5,727.9 L912.5,727.9 L915.5,727.9 L918.5,728.0 L921.5,728.0 L924.5,728.0 L927.5,728.0 L930.5,728.0 L933.5,728.0 L936.5,728.0 L939.5,728.0 L942.5,728.0 L945.5,728.0 L948.5,728.0 L951.5,728.0 L954.5,728.1 L957.5,728.1 L960.5,728.1 L963.5,728.1 L966.5,728.1 L969.5,728.2 L972.5,728.2 L975.5,728.2 L978.5,728.2 L981.5,728.3 L984.5,728.3 L987.5,728.3 L990.5,728.3 L993.5,728.4 L996.5,728.4 L999.5,728.4 L1002.5,728.5 L1005.5,728.5 L1008.5,728.5 L1011.5,728.6 L1014.5,728.6 L1017.5,728.6 L1020.5,728.7 L1023.5,728.7 L1026.5,728.7 L1029.5,728.7 L1032.5,728.8 L1035.5,728.8 L1038.5,728.8 L1041.5,728.8 L1044.5,728.9 L1047.5,728.9 L1050.5,728.9 L1053.5,728.9 L1056.5,728.9 L1059.5,729.0 L1062.5,729.0 L1065.5,729.0 L1068.5,729.0 L1071.5,729.0 L1074.5,729.0 L1077.5,729.0 L1080.5,729.0 L1083.5,729.0 L1086.5,729.0 L1089.5,729.0 L1092.5,729.0 L1095.5,729.0 L1098.5,729.0 L1101.5,729.0 L1104.5,729.0 L1107.5,728.9 L1110.5,728.9 L1113.5,728.9 L1116.5,728.8 L1119.5,728.8 L1122.5,728.7 L1125.5,728.6 L1128.5,728.5 L1131.5,728.3 L1134.5,728.2 L1137.5,728.0 L1140.5,727.8 L1143.5,727.6 L1146.5,727.3 L1149.5,727.0 L1152.5,726.7 L1155.5,726.4 L1158.5,726.0 L1161.5,725.6 L1164.5,725.1 L1167.5,724.6 L1170.5,724.1 L1173.5,723.6 L1176.5,723.0 L1179.5,722.5 L1182.5,721.9 L1185.5,721.3 L1188.5,720.7 L1191.5,720.2 L1194.5,719.6 L1197.5,719.0 L1200.5,718.4 L1203.5,717.8 L1206.5,717.2 L1209.5,716.6 L1212.5,716.0 L1215.5,715.3 L1218.5,714.7 L1221.5,714.0 L1224.5,713.4 L1227.5,712.7 L1230.5,712.0 L1233.5,711.4 L1236.5,710.7 L1239.5,710.1 L1242.5,709.5 L1245.5,708.8 L1248.5,708.2 L1251.5,707.5 L1254.5,706.9 L1257.5,706.2 L1260.5,705.6 L1263.5,704.9 L1266.5,704.3 L1269.5,703.6 L1272.5,703.0 L1275.5,702.4 L1278.5,701.8 L1281.5,701.2 L1284.5,700.6 L1287.5,700.1 L1290.5,699.5 L1293.5,698.9 L1296.5,698.4 L1299.5,697.8 L1302.5,697.3 L1305.5,696.8 L1308.5,696.2 L1311.5,695.7 L1314.5,695.2 L1317.5,694.6 L1320.5,694.1 L1323.5,693.6 L1326.5,693.1 L1329.5,692.6 L1332.5,692.1 L1335.5,691.6 L1338.5,691.1 L1341.5,690.7 L1344.5,690.2 L1347.5,689.7 L1350.5,689.2 L1353.5,688.7 L1356.5,688.3 L1359.5,687.7 L1362.5,687.2 L1365.5,686.7 L1368.5,686.1 L1371.5,685.5 L1374.5,684.9 L1377.5,684.4 L1380.5,683.8 L1383.5,683.2 L1386.5,682.7 L1389.5,682.1 L1392.5,681.4 L1395.5,680.8 L1398.5,680.0 L1401.5,679.3 L1404.5,678.5 L1407.5,677.6 L1410.5,676.7 L1413.5,675.6 L1416.5,674.5 L1419.5,673.3 L1422.5,672.0 L1425.5,670.7 L1428.5,669.3 L1431.5,667.9 L1434.5,666.5 L1437.5,665.1 L1440.5,663.7 L1443.5,662.3 L1446.5,660.9 L1449.5,659.6 L1452.5,658.4 L1455.5,657.2 L1458.5,656.0 L1461.5,654.9 L1464.5,653.7 L1467.5,652.6 L1470.5,651.5 L1473.5,650.4 L1476.5,649.3 L1479.5,648.1 L1482.5,647.0 L1485.5,645.9 L1488.5,644.7 L1491.5,643.5 L1494.5,642.3 L1497.5,641.0 L1500.5,639.7 L1503.5,638.3 L1506.5,636.8 L1509.5,635.4 L1512.5,633.9 L1515.5,632.5 L1518.5,631.1 L1521.5,629.8 L1524.5,628.5 L1527.5,627.3 L1530.5,626.3 L1533.5,625.4 L1536.5,624.6 L1539.5,623.9 L1542.5,623.3 L1545.5,622.8 L1548.5,622.4 L1551.5,622.0 L1554.5,621.6 L1557.5,621.3 L1560.5,620.9 L1563.5,620.6 L1566.5,620.2 L1569.5,619.7 L1572.5,619.2 L1575.5,618.6 L1578.5,617.9 L1581.5,617.1 L1584.5,616.3 L1587.5,615.4 L1590.5,614.4 L1593.5,613.5 L1596.5,612.5 L1599.5,611.5 L1602.5,610.6 L1605.5,609.7 L1608.5,608.9 L1611.5,608.2 L1614.5,607.6 L1617.5,607.1 L1620.5,606.7 L1623.5,606.4" stroke="#ff8000" stroke-width="13" stroke-dasharray="16 28.4"/>
<path d="M255.5,672.5 L258.5,672.5 L261.5,672.5 L264.5,672.5 L267.5,672.6 L270.5,672.6 L273.5,672.6 L276.5,672.6 L279.5,672.6 L282.5,672.6 L285.5,672.6 L288.5,672.6 L291.5,672.6 L294.5,672.7 L297.5,672.7 L300.5,672.7 L303.5,672.7 L306.5,672.7 L309.5,672.7 L312.5,672.7 L315.5,672.7 L318.5,672.8 L321.5,672.8 L324.5,672.8 L327.5,672.8 L330.5,672.8 L333.5,672.9 L336.5,672.9 L339.5,672.9 L342.5,672.9 L345.5,673.0 L348.5,673.0 L351.5,673.0 L354.5,673.1 L357.5,673.1 L360.5,673.2 L363.5,673.2 L366.5,673.3 L369.5,673.4 L372.5,673.4 L375.5,673.5 L378.5,673.6 L381.5,673.6 L384.5,673.7 L387.5,673.8 L390.5,673.8 L393.5,673.9 L396.5,674.0 L399.5,674.0 L402.5,674.0 L405.5,674.1 L408.5,674.1 L411.5,674.1 L414.5,674.1 L417.5,674.2 L420.5,674.2 L423.5,674.2 L426.5,674.2 L429.5,674.2 L432.5,674.2 L435.5,674.2 L438.5,674.3 L441.5,674.3 L444.5,674.3 L447.5,674.3 L450.5,674.3 L453.5,674.3 L456.5,674.3 L459.5,674.4 L462.5,674.4 L465.5,674.4 L468.5,674.4 L471.5,674.4 L474.5,674.5 L477.5,674.5 L480.5,674.5 L483.5,674.6 L486.5,674.6 L489.5,674.7 L492.5,674.7 L495.5,674.8 L498.5,674.9 L501.5,675.0 L504.5,675.1 L507.5,675.2 L510.5,675.3 L513.5,675.4 L516.5,675.5 L519.5,675.6 L522.5,675.6 L525.5,675.7 L528.5,675.8 L531.5,675.8 L534.5,675.9 L537.5,675.9 L540.5,675.9 L543.5,676.0 L546.5,676.0 L549.5,676.0 L552.5,676.1 L555.5,676.1 L558.5,676.1 L561.5,676.1 L564.5,676.1 L567.5,676.2 L570.5,676.2 L573.5,676.2 L576.5,676.2 L579.5,676.2 L582.5,676.2 L585.5,676.2 L588.5,676.3 L591.5,676.3 L594.5,676.3 L597.5,676.3 L600.5,676.3 L603.5,676.3 L606.5,676.3 L609.5,676.3 L612.5,676.3 L615.5,676.4 L618.5,676.4 L621.5,676.4 L624.5,676.4 L627.5,676.4 L630.5,676.4 L633.5,676.4 L636.5,676.4 L639.5,676.3 L642.5,676.3 L645.5,676.3 L648.5,676.2 L651.5,676.2 L654.5,676.1 L657.5,676.0 L660.5,675.9 L663.5,675.9 L666.5,675.8 L669.5,675.7 L672.5,675.5 L675.5,675.4 L678.5,675.3 L681.5,675.2 L684.5,675.1 L687.5,675.0 L690.5,674.8 L693.5,674.7 L696.5,674.6 L699.5,674.5 L702.5,674.4 L705.5,674.3 L708.5,674.2 L711.5,674.1 L714.5,674.0 L717.5,673.9 L720.5,673.8 L723.5,673.7 L726.5,673.6 L729.5,673.5 L732.5,673.4 L735.5,673.3 L738.5,673.2 L741.5,673.1 L744.5,673.0 L747.5,672.9 L750.5,672.8 L753.5,672.7 L756.5,672.6 L759.5,672.5 L762.5,672.4 L765.5,672.4 L768.5,672.3 L771.5,672.2 L774.5,672.1 L777.5,672.1 L780.5,672.0 L783.5,671.9 L786.5,671.8 L789.5,671.8 L792.5,671.7 L795.5,671.6 L798.5,671.5 L801.5,671.5 L804.5,671.4 L807.5,671.3 L810.5,671.2 L813.5,671.2 L816.5,671.1 L819.5,671.0 L822.5,670.9 L825.5,670.9 L828.5,670.8 L831.5,670.7 L834.5,670.6 L837.5,670.5 L840.5,670.4 L843.5,670.3 L846.5,670.1 L849.5,670.0 L852.5,669.8 L855.5,669.7 L858.5,669.5 L861.5,669.4 L864.5,669.2 L867.5,669.1 L870.5,668.9 L873.5,668.8 L876.5,668.6 L879.5,668.5 L882.5,668.4 L885.5,668.3 L888.5,668.2 L891.5,668.1 L894.5,668.0 L897.5,667.9 L900.5,667.9 L903.5,667.8 L906.5,667.7 L909.5,667.7 L912.5,667.6 L915.5,667.5 L918.5,667.5 L921.5,667.4 L924.5,667.3 L927.5,667.3 L930.5,667.2 L933.5,667.1 L936.5,667.0 L939.5,666.9 L942.5,666.7 L945.5,666.6 L948.5,666.4 L951.5,666.3 L954.5,666.1 L957.5,665.9 L960.5,665.8 L963.5,665.6 L966.5,665.5 L969.5,665.3 L972.5,665.2 L975.5,665.1 L978.5,665.0 L981.5,664.9 L984.5,664.8 L987.5,664.8 L990.5,664.7 L993.5,664.6 L996.5,664.6 L999.5,664.5 L1002.5,664.4 L1005.5,664.3 L1008.5,664.3 L1011.5,664.2 L1014.5,664.1 L1017.5,664.0 L1020.5,663.9 L1023.5,663.8 L1026.5,663.7 L1029.5,663.6 L1032.5,663.5 L1035.5,663.4 L1038.5,663.2 L1041.5,663.1 L1044.5,663.0 L1047.5,662.9 L1050.5,662.8 L1053.5,662.6 L1056.5,662.5 L1059.5,662.4 L1062.5,662.3 L1065.5,662.2 L1068.5,662.1 L1071.5,662.0 L1074.5,661.9 L1077.5,661.8 L1080.5,661.7 L1083.5,661.6 L1086.5,661.5 L1089.5,661.4 L1092.5,661.3 L1095.5,661.2 L1098.5,661.0 L1101.5,660.8 L1104.5,660.6 L1107.5,660.4 L1110.5,660.1 L1113.5,659.9 L1116.5,659.6 L1119.5,659.3 L1122.5,659.0 L1125.5,658.7 L1128.5,658.3 L1131.5,658.0 L1134.5,657.6 L1137.5,657.2 L1140.5,656.8 L1143.5,656.4 L1146.5,656.0 L1149.5,655.6 L1152.5,655.1 L1155.5,654.7 L1158.5,654.2 L1161.5,653.7 L1164.5,653.2 L1167.5,652.7 L1170.5,652.2 L1173.5,651.6 L1176.5,651.1 L1179.5,650.5 L1182.5,649.9 L1185.5,649.3 L1188.5,648.7 L1191.5,648.0 L1194.5,647.4 L1197.5,646.7 L1200.5,646.0 L1203.5,645.3 L1206.5,644.6 L1209.5,643.8 L1212.5,643.1 L1215.5,642.3 L1218.5,641.5 L1221.5,640.7 L1224.5,639.9 L1227.5,639.1 L1230.5,638.3 L1233.5,637.4 L1236.5,636.6 L1239.5,635.7 L1242.5,634.9 L1245.5,634.0 L1248.5,633.2 L1251.5,632.3 L1254.5,631.5 L1257.5,630.6 L1260.5,629.7 L1263.5,628.7 L1266.5,627.8 L1269.5,626.8 L1272.5,625.9 L1275.5,624.9 L1278.5,623.8 L1281.5,622.8 L1284.5,621.7 L1287.5,620.5 L1290.5,619.4 L1293.5,618.2 L1296.5,617.0 L1299.5,615.8 L1302.5,614.6 L1305.5,613.4 L1308.5,612.2 L1311.5,611.0 L1314.5,609.7 L1317.5,608.5 L1320.5,607.3 L1323.5,606.1 L1326.5,604.9 L1329.5,603.6 L1332.5,602.4 L1335.5,601.2 L1338.5,599.9 L1341.5,598.7 L1344.5,597.4 L1347.5,596.2 L1350.5,594.9 L1353.5,593.7 L1356.5,592.4 L1359.5,591.1 L1362.5,589.9 L1365.5,588.6 L1368.5,587.4 L1371.5,586.2 L1374.5,585.0 L1377.5,583.7 L1380.5,582.5 L1383.5,581.3 L1386.5,580.0 L1389.5,578.7 L1392.5,577.4 L1395.5,576.1 L1398.5,574.7 L1401.5,573.2 L1404.5,571.8 L1407.5,570.3 L1410.5,568.9 L1413.5,567.4 L1416.5,565.9 L1419.5,564.3 L1422.5,562.7 L1425.5,561.0 L1428.5,559.2 L1431.5,557.3 L1434.5,555.3 L1437.5,553.1 L1440.5,550.8 L1443.5,548.3 L1446.5,545.7 L1449.5,542.9 L1452.5,540.1 L1455.5,537.2 L1458.5,534.3 L1461.5,531.5 L1464.5,528.7 L1467.5,526.0 L1470.5,523.4 L1473.5,521.0 L1476.5,518.9 L1479.5,516.8 L1482.5,514.9 L1485.5,513.0 L1488.5,511.0" stroke="#ff8000" stroke-width="13" stroke-dasharray="16 28.4"/>
<line x1="1505.8" y1="503.1" x2="1517.2" y2="500.8" stroke="#ff8000" stroke-width="13"/>
<line x1="1543.2" y1="502.2" x2="1557.8" y2="506.6" stroke="#ff8000" stroke-width="13"/>
<line x1="1572.5" y1="482.2" x2="1585.0" y2="480.8" stroke="#ff8000" stroke-width="13"/>
<line x1="1597.8" y1="452.1" x2="1605.8" y2="441.3" stroke="#ff8000" stroke-width="13"/>
<line x1="1614.2" y1="416.3" x2="1622.4" y2="424.4" stroke="#ff8000" stroke-width="13"/>
<line x1="1626.5" y1="454.0" x2="1631.5" y2="454.0" stroke="#ff8000" stroke-width="13"/>
<line x1="1639.6" y1="424.8" x2="1646.9" y2="411.7" stroke="#ff8000" stroke-width="13"/>
<line x1="1652.9" y1="371.0" x2="1651.7" y2="381.5" stroke="#ff8000" stroke-width="13"/>
<line x1="1658.0" y1="396.5" x2="1658.0" y2="408.5" stroke="#ff8000" stroke-width="13"/>
<line x1="1645.9" y1="412.4" x2="1643.1" y2="427.6" stroke="#ff8000" stroke-width="13"/>
<line x1="1663.1" y1="438.0" x2="1672.9" y2="450.0" stroke="#ff8000" stroke-width="13"/>
<line x1="1688.1" y1="371.4" x2="1686.4" y2="384.6" stroke="#ff8000" stroke-width="13"/>
<line x1="1684.8" y1="417.5" x2="1683.7" y2="428.5" stroke="#ff8000" stroke-width="13"/>
<line x1="1692.8" y1="350.3" x2="1702.2" y2="358.7" stroke="#ff8000" stroke-width="13"/>
<line x1="1705.5" y1="372.5" x2="1705.5" y2="398.5" stroke="#ff8000" stroke-width="13"/>
<line x1="1713.1" y1="374.1" x2="1715.9" y2="381.9" stroke="#ff8000" stroke-width="13"/>
<line x1="1717.5" y1="328.5" x2="1716.5" y2="339.5" stroke="#ff8000" stroke-width="13"/>
<line x1="1755.0" y1="310.5" x2="1755.0" y2="319.5" stroke="#ff8000" stroke-width="13"/>
<line x1="1770.0" y1="243.5" x2="1770.0" y2="261.5" stroke="#ff8000" stroke-width="13"/>
<line x1="1772.0" y1="288.5" x2="1772.0" y2="301.5" stroke="#ff8000" stroke-width="13"/>
<line x1="1776.5" y1="300.0" x2="1780.5" y2="300.0" stroke="#ff8000" stroke-width="13"/>
<line x1="1750.1" y1="329.7" x2="1758.9" y2="346.3" stroke="#ff8000" stroke-width="13"/>
<line x1="1767.7" y1="326.5" x2="1785.3" y2="343.5" stroke="#ff8000" stroke-width="13"/>
<line x1="1719.8" y1="329.3" x2="1728.2" y2="340.7" stroke="#ff8000" stroke-width="13"/>
<line x1="1727.4" y1="347.6" x2="1740.6" y2="369.4" stroke="#ff8000" stroke-width="13"/>
<line x1="1742.4" y1="374.5" x2="1744.6" y2="407.5" stroke="#ff8000" stroke-width="13"/>
<line x1="1757.5" y1="382.5" x2="1766.5" y2="396.5" stroke="#ff8000" stroke-width="13"/>
<line x1="1764.0" y1="419.5" x2="1764.0" y2="436.5" stroke="#ff8000" stroke-width="13"/>
<line x1="1778.0" y1="419.5" x2="1778.0" y2="436.5" stroke="#ff8000" stroke-width="13"/>
<line x1="1765.9" y1="464.8" x2="1771.1" y2="467.2" stroke="#ff8000" stroke-width="13"/>
<line x1="1790.2" y1="374.5" x2="1791.8" y2="429.5" stroke="#ff8000" stroke-width="13"/>
<line x1="1641.0" y1="591.0" x2="1648.1" y2="598.1" stroke="#ff8000" stroke-width="13"/>
<line x1="1671.1" y1="597.6" x2="1681.4" y2="591.4" stroke="#ff8000" stroke-width="13"/>
<line x1="1699.1" y1="591.7" x2="1703.9" y2="600.3" stroke="#ff8000" stroke-width="13"/>
<line x1="1711.7" y1="573.9" x2="1715.3" y2="582.1" stroke="#ff8000" stroke-width="13"/>
<line x1="1724.4" y1="583.9" x2="1726.6" y2="578.1" stroke="#ff8000" stroke-width="13"/>
<line x1="1737.6" y1="570.2" x2="1742.4" y2="578.8" stroke="#ff8000" stroke-width="13"/>
<line x1="1753.7" y1="558.4" x2="1761.3" y2="569.6" stroke="#ff8000" stroke-width="13"/>
<line x1="1762.6" y1="602.3" x2="1765.4" y2="612.7" stroke="#ff8000" stroke-width="13"/>
<line x1="1775.8" y1="554.5" x2="1779.2" y2="583.5" stroke="#ff8000" stroke-width="13"/>
<line x1="1789.3" y1="564.1" x2="1794.7" y2="577.9" stroke="#ff8000" stroke-width="13"/>
<line x1="1620.2" y1="733.5" x2="1633.8" y2="737.6" stroke="#ff8000" stroke-width="13"/>
<line x1="1647.5" y1="721.7" x2="1655.5" y2="721.7" stroke="#ff8000" stroke-width="13"/>
<line x1="1675.2" y1="717.8" x2="1683.4" y2="711.9" stroke="#ff8000" stroke-width="13"/>
<line x1="1699.1" y1="719.9" x2="1706.4" y2="712.6" stroke="#ff8000" stroke-width="13"/>
<line x1="1714.1" y1="695.7" x2="1720.5" y2="707.9" stroke="#ff8000" stroke-width="13"/>
<line x1="1721.6" y1="735.6" x2="1729.1" y2="724.4" stroke="#ff8000" stroke-width="13"/>
<line x1="1732.3" y1="697.6" x2="1737.7" y2="706.4" stroke="#ff8000" stroke-width="13"/>
<line x1="1744.6" y1="706.6" x2="1750.9" y2="697.4" stroke="#ff8000" stroke-width="13"/>
<line x1="1755.8" y1="675.7" x2="1762.4" y2="687.9" stroke="#ff8000" stroke-width="13"/>
<line x1="1768.0" y1="692.2" x2="1773.0" y2="707.8" stroke="#ff8000" stroke-width="13"/>
<line x1="1779.2" y1="699.6" x2="1787.8" y2="714.4" stroke="#ff8000" stroke-width="13"/>
<line x1="1789.9" y1="671.8" x2="1797.1" y2="686.2" stroke="#ff8000" stroke-width="13"/>
<line x1="1796.1" y1="715.7" x2="1796.9" y2="717.3" stroke="#ff8000" stroke-width="13"/>
</g>
<g font-family="Liberation Serif, serif" fill="#000">
<text x="205" y="1073.5" font-size="68" text-anchor="end">40</text>
<text x="205" y="820.9" font-size="68" text-anchor="end">60</text>
<text x="205" y="568.2" font-size="68" text-anchor="end">80</text>
<text x="205" y="315.6" font-size="68" text-anchor="end">100</text>
<text x="205" y="63.0" font-size="68" text-anchor="end">120</text>
<text x="255.5" y="1154" font-size="68" text-anchor="middle">0.1</text>
<text x="641.5" y="1154" font-size="68" text-anchor="middle">1</text>
<text x="1027.5" y="1154" font-size="68" text-anchor="middle">10</text>
<text x="1413.5" y="1154" font-size="68" text-anchor="middle">100</text>
<text x="1799.5" y="1154" font-size="68" text-anchor="middle">1000</text>
<text x="998.5" y="1237" font-size="81" text-anchor="middle">Frequency (MHz)</text>
<text transform="translate(75.5,534) rotate(-90)" font-size="81.5" text-anchor="middle">SE (dB)</text>
<text x="1285" y="156" font-size="74">Measurement</text>
<text x="1285" y="249" font-size="74">Calculation</text>
<text x="319.5" y="422.5" font-size="79">80 µm</text>
<text x="591.5" y="422.5" font-size="79">100 µm</text>
<text x="900" y="425" font-size="80.5">200 µm</text>
<text x="1194.5" y="429" font-size="80">300 µm</text>
</g>
<line x1="1060" y1="130.7" x2="1228.5" y2="130.7" stroke="#000" stroke-width="13" stroke-linecap="round"/>
<line x1="1060" y1="223.5" x2="1215" y2="223.5" stroke="#ff8000" stroke-width="12.7" stroke-linecap="round" stroke-dasharray="16.4 27.9"/>
<line x1="437" y1="444" x2="680.8" y2="825.6" stroke="#000" stroke-width="8" stroke-linecap="round"/><path d="M697.8,852.1 L670.1,826.5 L686.1,816.2 Z" fill="#000" stroke="#000" stroke-width="4.5" stroke-linejoin="round"/>
<line x1="702" y1="426" x2="970.5" y2="750.0" stroke="#000" stroke-width="8" stroke-linecap="round"/><path d="M990.6,774.3 L960.0,752.2 L974.6,740.1 Z" fill="#000" stroke="#000" stroke-width="4.5" stroke-linejoin="round"/>
<line x1="973" y1="435" x2="1164.3" y2="682.3" stroke="#000" stroke-width="8" stroke-linecap="round"/><path d="M1183.6,707.2 L1153.8,684.2 L1168.8,672.5 Z" fill="#000" stroke="#000" stroke-width="4.5" stroke-linejoin="round"/>
<line x1="1248" y1="445" x2="1324.6" y2="554.4" stroke="#000" stroke-width="8" stroke-linecap="round"/><path d="M1342.7,580.2 L1314.0,555.7 L1329.5,544.8 Z" fill="#000" stroke="#000" stroke-width="4.5" stroke-linejoin="round"/>
</svg></body></html>
